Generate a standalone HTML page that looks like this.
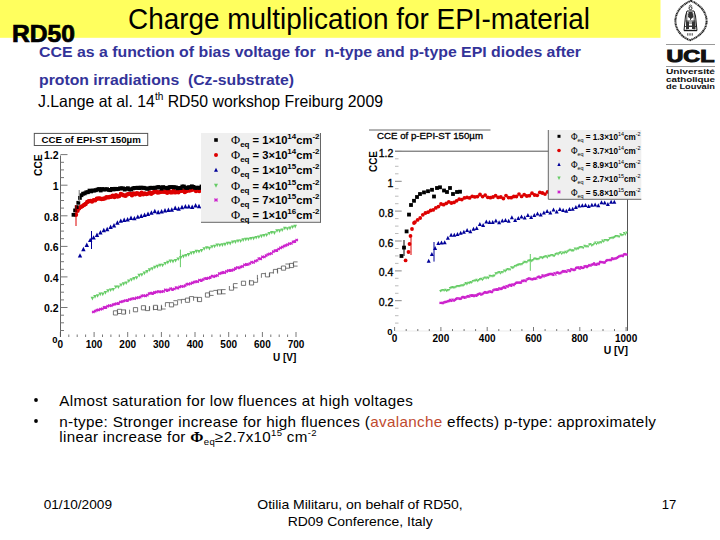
<!DOCTYPE html>
<html><head><meta charset="utf-8"><style>
html,body{margin:0;padding:0;background:#fff;width:720px;height:540px;overflow:hidden}
svg{display:block;font-family:"Liberation Sans", sans-serif}
</style></head><body>
<svg width="720" height="540" viewBox="0 0 720 540">
<rect x="0" y="0" width="660.5" height="37.8" fill="#ffff5e"/>
<text x="128" y="28.7" font-size="30" fill="#000" textLength="462" lengthAdjust="spacingAndGlyphs">Charge multiplication for EPI-material</text>
<text x="12" y="41.7" font-size="23" font-weight="bold" fill="#000" stroke="#000" stroke-width="0.7" textLength="63" lengthAdjust="spacingAndGlyphs">RD50</text>
<text x="39" y="56.6" font-size="15" font-weight="bold" fill="#333399" style="white-space:pre" textLength="542" lengthAdjust="spacingAndGlyphs">CCE as a function of bias voltage for  n-type and p-type EPI diodes after</text>
<text x="39" y="85" font-size="15" font-weight="bold" fill="#333399" style="white-space:pre" textLength="255" lengthAdjust="spacingAndGlyphs">proton irradiations  (Cz-substrate)</text>
<text x="38" y="106.7" font-size="16.5" fill="#000" textLength="345" lengthAdjust="spacingAndGlyphs">J.Lange at al. 14<tspan dy="-6.5" font-size="10.5">th</tspan><tspan dy="6.5"> RD50 workshop Freiburg 2009</tspan></text>
<g fill="none" stroke="#1a1a1a"><path d="M691 0.9 C701 5 706.6 13 706.6 21 C706.6 30 699 37 690 40.2 C681 37 675.4 29 675.4 21 C675.4 13 681 4.5 691 0.9 Z" stroke-width="2" stroke-dasharray="1.2 0.4 0.8 0.5 1.5 0.4" stroke="#222"/><circle cx="690.5" cy="8.2" r="1.5" stroke-width="0.9"/><path d="M688.8 6.2 L690.5 5 L692.2 6.2" stroke-width="0.7"/><path d="M687 11 L694 11 L695.5 16 L697 30.5 L684 30.5 L685.5 16 Z" stroke-width="1"/><path d="M686.8 13 L686.8 29.5 M694.2 13 L694.2 29.5 M685.5 21 L695.5 21 M684.5 26.5 L696.5 26.5 M690.5 12 L690.5 20" stroke-width="0.8"/><path d="M688 14 C689 16 692 16 693 14 M688 23 L693 23 L693 26 L688 26 Z" stroke-width="0.7"/></g>
<rect x="684" y="29.8" width="13" height="1.4" fill="#1a1a1a"/>
<path d="M688.5 12 L692.5 12 L693.5 17 L691 19 L688 17 Z M686 21.5 L689 21.5 L689 29 L686 29 Z M692 21.5 L695.5 21.5 L695.5 29 L692 29 Z" fill="#333"/>
<path d="M687.6 33.2v2.4M689.2 33.2v2.4M690.8 33.2v2.4M692.4 33.2v2.4" stroke="#555" stroke-width="0.9"/>
<rect x="666" y="44" width="49" height="1" fill="#999"/>
<rect x="666" y="66" width="49" height="1" fill="#999"/>
<text x="666.5" y="61.7" font-size="16.5" font-weight="bold" fill="#111" stroke="#111" stroke-width="1" textLength="48" lengthAdjust="spacingAndGlyphs">UCL</text>
<text x="666" y="74.4" font-size="7.2" font-weight="bold" fill="#111" textLength="49" lengthAdjust="spacingAndGlyphs">Université</text>
<text x="666" y="81.7" font-size="7.2" font-weight="bold" fill="#111" textLength="49" lengthAdjust="spacingAndGlyphs">catholique</text>
<text x="666" y="88.9" font-size="7.2" font-weight="bold" fill="#111" textLength="49" lengthAdjust="spacingAndGlyphs">de Louvain</text>
<rect x="34.3" y="133.4" width="113.4" height="12.1" fill="#fff" stroke="#555" stroke-width="1"/>
<text x="41.5" y="142.8" font-size="9" font-weight="bold" fill="#000" textLength="99.3" lengthAdjust="spacingAndGlyphs">CCE of EPI-ST 150µm</text>
<line x1="60.5" y1="155.5" x2="60.5" y2="337" stroke="#666" stroke-width="1"/>
<line x1="60.5" y1="330.5" x2="64.0" y2="330.5" stroke="#777" stroke-width="1"/>
<line x1="60.5" y1="322.8" x2="64.0" y2="322.8" stroke="#777" stroke-width="1"/>
<line x1="60.5" y1="315.2" x2="64.0" y2="315.2" stroke="#777" stroke-width="1"/>
<line x1="60.5" y1="307.5" x2="67.5" y2="307.5" stroke="#777" stroke-width="1"/>
<line x1="60.5" y1="299.9" x2="64.0" y2="299.9" stroke="#777" stroke-width="1"/>
<line x1="60.5" y1="292.2" x2="64.0" y2="292.2" stroke="#777" stroke-width="1"/>
<line x1="60.5" y1="284.6" x2="64.0" y2="284.6" stroke="#777" stroke-width="1"/>
<line x1="60.5" y1="276.9" x2="67.5" y2="276.9" stroke="#777" stroke-width="1"/>
<line x1="60.5" y1="269.3" x2="64.0" y2="269.3" stroke="#777" stroke-width="1"/>
<line x1="60.5" y1="261.7" x2="64.0" y2="261.7" stroke="#777" stroke-width="1"/>
<line x1="60.5" y1="254.0" x2="64.0" y2="254.0" stroke="#777" stroke-width="1"/>
<line x1="60.5" y1="246.4" x2="67.5" y2="246.4" stroke="#777" stroke-width="1"/>
<line x1="60.5" y1="238.7" x2="64.0" y2="238.7" stroke="#777" stroke-width="1"/>
<line x1="60.5" y1="231.1" x2="64.0" y2="231.1" stroke="#777" stroke-width="1"/>
<line x1="60.5" y1="223.4" x2="64.0" y2="223.4" stroke="#777" stroke-width="1"/>
<line x1="60.5" y1="215.8" x2="67.5" y2="215.8" stroke="#777" stroke-width="1"/>
<line x1="60.5" y1="208.1" x2="64.0" y2="208.1" stroke="#777" stroke-width="1"/>
<line x1="60.5" y1="200.5" x2="64.0" y2="200.5" stroke="#777" stroke-width="1"/>
<line x1="60.5" y1="192.8" x2="64.0" y2="192.8" stroke="#777" stroke-width="1"/>
<line x1="60.5" y1="185.2" x2="67.5" y2="185.2" stroke="#777" stroke-width="1"/>
<line x1="60.5" y1="177.6" x2="64.0" y2="177.6" stroke="#777" stroke-width="1"/>
<line x1="60.5" y1="169.9" x2="64.0" y2="169.9" stroke="#777" stroke-width="1"/>
<line x1="60.5" y1="162.3" x2="64.0" y2="162.3" stroke="#777" stroke-width="1"/>
<line x1="60.5" y1="154.6" x2="67.5" y2="154.6" stroke="#777" stroke-width="1"/>
<text x="58.5" y="159.4" font-size="10.5" font-weight="bold" text-anchor="end" fill="#000">1.2</text>
<text x="58.5" y="190.0" font-size="10.5" font-weight="bold" text-anchor="end" fill="#000">1</text>
<text x="58.5" y="220.6" font-size="10.5" font-weight="bold" text-anchor="end" fill="#000">0.8</text>
<text x="58.5" y="251.2" font-size="10.5" font-weight="bold" text-anchor="end" fill="#000">0.6</text>
<text x="58.5" y="281.7" font-size="10.5" font-weight="bold" text-anchor="end" fill="#000">0.4</text>
<text x="58.5" y="312.3" font-size="10.5" font-weight="bold" text-anchor="end" fill="#000">0.2</text>
<text x="57.5" y="342.5" font-size="9.5" font-weight="bold" text-anchor="end" fill="#000">0</text>
<line x1="60.4" y1="332.0" x2="60.4" y2="337" stroke="#555" stroke-width="0.8"/>
<line x1="68.8" y1="334.5" x2="68.8" y2="337" stroke="#555" stroke-width="0.8"/>
<line x1="77.2" y1="334.5" x2="77.2" y2="337" stroke="#555" stroke-width="0.8"/>
<line x1="85.6" y1="334.5" x2="85.6" y2="337" stroke="#555" stroke-width="0.8"/>
<line x1="94.1" y1="332.0" x2="94.1" y2="337" stroke="#555" stroke-width="0.8"/>
<line x1="102.5" y1="334.5" x2="102.5" y2="337" stroke="#555" stroke-width="0.8"/>
<line x1="110.9" y1="334.5" x2="110.9" y2="337" stroke="#555" stroke-width="0.8"/>
<line x1="119.3" y1="334.5" x2="119.3" y2="337" stroke="#555" stroke-width="0.8"/>
<line x1="127.7" y1="332.0" x2="127.7" y2="337" stroke="#555" stroke-width="0.8"/>
<line x1="136.1" y1="334.5" x2="136.1" y2="337" stroke="#555" stroke-width="0.8"/>
<line x1="144.6" y1="334.5" x2="144.6" y2="337" stroke="#555" stroke-width="0.8"/>
<line x1="153.0" y1="334.5" x2="153.0" y2="337" stroke="#555" stroke-width="0.8"/>
<line x1="161.4" y1="332.0" x2="161.4" y2="337" stroke="#555" stroke-width="0.8"/>
<line x1="169.8" y1="334.5" x2="169.8" y2="337" stroke="#555" stroke-width="0.8"/>
<line x1="178.2" y1="334.5" x2="178.2" y2="337" stroke="#555" stroke-width="0.8"/>
<line x1="186.6" y1="334.5" x2="186.6" y2="337" stroke="#555" stroke-width="0.8"/>
<line x1="195.0" y1="332.0" x2="195.0" y2="337" stroke="#555" stroke-width="0.8"/>
<line x1="203.5" y1="334.5" x2="203.5" y2="337" stroke="#555" stroke-width="0.8"/>
<line x1="211.9" y1="334.5" x2="211.9" y2="337" stroke="#555" stroke-width="0.8"/>
<line x1="220.3" y1="334.5" x2="220.3" y2="337" stroke="#555" stroke-width="0.8"/>
<line x1="228.7" y1="332.0" x2="228.7" y2="337" stroke="#555" stroke-width="0.8"/>
<line x1="237.1" y1="334.5" x2="237.1" y2="337" stroke="#555" stroke-width="0.8"/>
<line x1="245.5" y1="334.5" x2="245.5" y2="337" stroke="#555" stroke-width="0.8"/>
<line x1="253.9" y1="334.5" x2="253.9" y2="337" stroke="#555" stroke-width="0.8"/>
<line x1="262.4" y1="332.0" x2="262.4" y2="337" stroke="#555" stroke-width="0.8"/>
<line x1="270.8" y1="334.5" x2="270.8" y2="337" stroke="#555" stroke-width="0.8"/>
<line x1="279.2" y1="334.5" x2="279.2" y2="337" stroke="#555" stroke-width="0.8"/>
<line x1="287.6" y1="334.5" x2="287.6" y2="337" stroke="#555" stroke-width="0.8"/>
<line x1="296.0" y1="332.0" x2="296.0" y2="337" stroke="#555" stroke-width="0.8"/>
<text x="60.4" y="348.3" font-size="10" font-weight="bold" text-anchor="middle" fill="#000">0</text>
<text x="94.1" y="348.3" font-size="10" font-weight="bold" text-anchor="middle" fill="#000">100</text>
<text x="127.7" y="348.3" font-size="10" font-weight="bold" text-anchor="middle" fill="#000">200</text>
<text x="161.4" y="348.3" font-size="10" font-weight="bold" text-anchor="middle" fill="#000">300</text>
<text x="195.0" y="348.3" font-size="10" font-weight="bold" text-anchor="middle" fill="#000">400</text>
<text x="228.7" y="348.3" font-size="10" font-weight="bold" text-anchor="middle" fill="#000">500</text>
<text x="262.4" y="348.3" font-size="10" font-weight="bold" text-anchor="middle" fill="#000">600</text>
<text x="296.0" y="348.3" font-size="10" font-weight="bold" text-anchor="middle" fill="#000">700</text>
<text x="273" y="361" font-size="10.5" font-weight="bold" fill="#000" textLength="23.3" lengthAdjust="spacingAndGlyphs">U [V]</text>
<text transform="translate(42.2,176) rotate(-90)" x="0" y="0" font-size="10.5" font-weight="bold" fill="#000" textLength="21.6" lengthAdjust="spacingAndGlyphs">CCE</text>
<g>
<path d="M113.4 310.8h4.2M117.6 310.8v4.2M113.4 315.0h4.2M113.4 310.8v4.2" fill="none" stroke="#555" stroke-width="0.8"/>
<path d="M117.4 309.3h4.2M121.6 309.3v4.2M117.4 313.5h4.2M117.4 309.3v4.2" fill="none" stroke="#555" stroke-width="0.8"/>
<path d="M121.4 309.9h4.2M125.6 309.9v4.2M121.4 314.1h4.2" fill="none" stroke="#555" stroke-width="0.8"/>
<path d="M129.6 309.7v4.2M125.4 309.7v4.2" fill="none" stroke="#555" stroke-width="0.8"/>

<path d="M133.4 307.6h4.2M137.6 307.6v4.2M133.4 311.8h4.2M133.4 307.6v4.2" fill="none" stroke="#555" stroke-width="0.8"/>

<path d="M141.4 305.7h4.2M145.6 305.7v4.2M141.4 309.9h4.2M141.4 305.7v4.2" fill="none" stroke="#555" stroke-width="0.8"/>
<path d="M149.6 306.4v4.2M145.4 310.6h4.2M145.4 306.4v4.2" fill="none" stroke="#555" stroke-width="0.8"/>
<path d="M153.6 306.1v4.2M149.4 306.1v4.2" fill="none" stroke="#555" stroke-width="0.8"/>
<path d="M153.4 305.3h4.2M157.6 305.3v4.2M153.4 309.5h4.2M153.4 305.3v4.2" fill="none" stroke="#555" stroke-width="0.8"/>
<path d="M161.6 305.9v4.2M157.4 310.1h4.2M157.4 305.9v4.2" fill="none" stroke="#555" stroke-width="0.8"/>
<path d="M161.4 309.0h4.2M161.4 304.8v4.2" fill="none" stroke="#555" stroke-width="0.8"/>
<path d="M165.4 302.6h4.2M165.4 302.6v4.2" fill="none" stroke="#555" stroke-width="0.8"/>
<path d="M169.4 302.7h4.2M173.6 302.7v4.2M169.4 306.9h4.2M169.4 302.7v4.2" fill="none" stroke="#555" stroke-width="0.8"/>
<path d="M173.4 300.7h4.2M177.6 300.7v4.2M173.4 304.9h4.2" fill="none" stroke="#555" stroke-width="0.8"/>
<path d="M177.4 299.8h4.2" fill="none" stroke="#555" stroke-width="0.8"/>
<path d="M181.4 299.4h4.2M181.4 299.4v4.2" fill="none" stroke="#555" stroke-width="0.8"/>
<path d="M185.4 298.1h4.2M189.6 298.1v4.2M185.4 302.3h4.2M185.4 298.1v4.2" fill="none" stroke="#555" stroke-width="0.8"/>
<path d="M189.4 296.6h4.2M193.6 296.6v4.2M189.4 296.6v4.2" fill="none" stroke="#555" stroke-width="0.8"/>
<path d="M193.4 297.3h4.2M197.6 297.3v4.2" fill="none" stroke="#555" stroke-width="0.8"/>
<path d="M197.4 297.4h4.2M201.6 297.4v4.2M197.4 301.6h4.2M197.4 297.4v4.2" fill="none" stroke="#555" stroke-width="0.8"/>

<path d="M205.4 292.9h4.2M209.6 292.9v4.2M205.4 297.1h4.2M205.4 292.9v4.2" fill="none" stroke="#555" stroke-width="0.8"/>
<path d="M209.4 291.2h4.2M209.4 295.4h4.2M209.4 291.2v4.2" fill="none" stroke="#555" stroke-width="0.8"/>
<path d="M213.4 290.4h4.2M217.6 290.4v4.2" fill="none" stroke="#555" stroke-width="0.8"/>
<path d="M217.4 289.8h4.2M221.6 289.8v4.2M217.4 294.0h4.2M217.4 289.8v4.2" fill="none" stroke="#555" stroke-width="0.8"/>
<path d="M221.4 289.6h4.2M221.4 293.8h4.2M221.4 289.6v4.2" fill="none" stroke="#555" stroke-width="0.8"/>

<path d="M233.6 286.0v4.2M229.4 290.2h4.2M229.4 286.0v4.2" fill="none" stroke="#555" stroke-width="0.8"/>
<path d="M233.4 283.6h4.2M233.4 287.8h4.2M233.4 283.6v4.2" fill="none" stroke="#555" stroke-width="0.8"/>
<path d="" fill="none" stroke="#555" stroke-width="0.8"/>
<path d="M241.4 281.2h4.2M245.6 281.2v4.2M241.4 285.4h4.2M241.4 281.2v4.2" fill="none" stroke="#555" stroke-width="0.8"/>
<path d="M249.6 279.9v4.2" fill="none" stroke="#555" stroke-width="0.8"/>
<path d="M249.4 280.8h4.2M253.6 280.8v4.2M249.4 285.0h4.2M249.4 280.8v4.2" fill="none" stroke="#555" stroke-width="0.8"/>
<path d="M257.6 278.1v4.2M253.4 282.3h4.2" fill="none" stroke="#555" stroke-width="0.8"/>
<path d="M257.4 274.9v4.2" fill="none" stroke="#555" stroke-width="0.8"/>
<path d="M261.4 273.6h4.2M261.4 273.6v4.2" fill="none" stroke="#555" stroke-width="0.8"/>
<path d="M269.6 272.7v4.2M265.4 276.9h4.2M265.4 272.7v4.2" fill="none" stroke="#555" stroke-width="0.8"/>
<path d="M269.4 272.8h4.2M269.4 272.8v4.2" fill="none" stroke="#555" stroke-width="0.8"/>
<path d="M273.4 269.4h4.2M277.6 269.4v4.2M273.4 269.4v4.2" fill="none" stroke="#555" stroke-width="0.8"/>
<path d="M277.4 268.4h4.2M277.4 268.4v4.2" fill="none" stroke="#555" stroke-width="0.8"/>
<path d="M281.4 266.0h4.2M285.6 266.0v4.2M281.4 270.2h4.2M281.4 266.0v4.2" fill="none" stroke="#555" stroke-width="0.8"/>
<path d="M285.4 264.0h4.2M289.6 264.0v4.2M285.4 268.2h4.2" fill="none" stroke="#555" stroke-width="0.8"/>
<path d="M289.4 263.4h4.2M293.6 263.4v4.2M289.4 267.6h4.2M289.4 263.4v4.2" fill="none" stroke="#555" stroke-width="0.8"/>
<path d="M293.4 261.9h4.2M293.4 266.1h4.2M293.4 261.9v4.2" fill="none" stroke="#555" stroke-width="0.8"/>
<path d="M92.1 310.8L94.5 313.2M94.5 310.8L92.1 313.2M92.1 312.0L94.5 312.0" stroke="#cc22cc" stroke-width="1.1"/>
<path d="M93.9 309.9L96.3 312.3M96.3 309.9L93.9 312.3M93.9 311.1L96.3 311.1" stroke="#cc22cc" stroke-width="1.1"/>
<path d="M95.7 309.0L98.1 311.4M98.1 309.0L95.7 311.4M95.7 310.2L98.1 310.2" stroke="#cc22cc" stroke-width="1.1"/>
<path d="M97.5 308.6L99.9 311.0M99.9 308.6L97.5 311.0M97.5 309.8L99.9 309.8" stroke="#cc22cc" stroke-width="1.1"/>
<path d="M99.3 308.0L101.7 310.4M101.7 308.0L99.3 310.4M99.3 309.2L101.7 309.2" stroke="#cc22cc" stroke-width="1.1"/>
<path d="M101.1 307.7L103.5 310.1M103.5 307.7L101.1 310.1M101.1 308.9L103.5 308.9" stroke="#cc22cc" stroke-width="1.1"/>
<path d="M102.9 306.1L105.3 308.5M105.3 306.1L102.9 308.5M102.9 307.3L105.3 307.3" stroke="#cc22cc" stroke-width="1.1"/>
<path d="M104.7 306.1L107.1 308.5M107.1 306.1L104.7 308.5M104.7 307.3L107.1 307.3" stroke="#cc22cc" stroke-width="1.1"/>
<path d="M106.5 305.0L108.9 307.4M108.9 305.0L106.5 307.4M106.5 306.2L108.9 306.2" stroke="#cc22cc" stroke-width="1.1"/>
<path d="M108.3 304.4L110.7 306.8M110.7 304.4L108.3 306.8M108.3 305.6L110.7 305.6" stroke="#cc22cc" stroke-width="1.1"/>
<path d="M110.1 304.5L112.5 306.9M112.5 304.5L110.1 306.9M110.1 305.7L112.5 305.7" stroke="#cc22cc" stroke-width="1.1"/>
<path d="M111.9 303.5L114.3 305.9M114.3 303.5L111.9 305.9M111.9 304.7L114.3 304.7" stroke="#cc22cc" stroke-width="1.1"/>
<path d="M113.7 302.9L116.1 305.3M116.1 302.9L113.7 305.3M113.7 304.1L116.1 304.1" stroke="#cc22cc" stroke-width="1.1"/>
<path d="M115.5 302.5L117.9 304.9M117.9 302.5L115.5 304.9M115.5 303.7L117.9 303.7" stroke="#cc22cc" stroke-width="1.1"/>
<path d="M117.3 302.1L119.7 304.5M119.7 302.1L117.3 304.5M117.3 303.3L119.7 303.3" stroke="#cc22cc" stroke-width="1.1"/>
<path d="M119.1 300.8L121.5 303.2M121.5 300.8L119.1 303.2M119.1 302.0L121.5 302.0" stroke="#cc22cc" stroke-width="1.1"/>
<path d="M120.9 300.4L123.3 302.8M123.3 300.4L120.9 302.8M120.9 301.6L123.3 301.6" stroke="#cc22cc" stroke-width="1.1"/>
<path d="M122.7 299.8L125.1 302.2M125.1 299.8L122.7 302.2M122.7 301.0L125.1 301.0" stroke="#cc22cc" stroke-width="1.1"/>
<path d="M124.5 299.3L126.9 301.7M126.9 299.3L124.5 301.7M124.5 300.5L126.9 300.5" stroke="#cc22cc" stroke-width="1.1"/>
<path d="M126.3 299.1L128.7 301.5M128.7 299.1L126.3 301.5M126.3 300.3L128.7 300.3" stroke="#cc22cc" stroke-width="1.1"/>
<path d="M128.1 298.3L130.5 300.7M130.5 298.3L128.1 300.7M128.1 299.5L130.5 299.5" stroke="#cc22cc" stroke-width="1.1"/>
<path d="M129.9 297.9L132.3 300.3M132.3 297.9L129.9 300.3M129.9 299.1L132.3 299.1" stroke="#cc22cc" stroke-width="1.1"/>
<path d="M131.7 297.3L134.1 299.7M134.1 297.3L131.7 299.7M131.7 298.5L134.1 298.5" stroke="#cc22cc" stroke-width="1.1"/>
<path d="M133.5 297.5L135.9 299.9M135.9 297.5L133.5 299.9M133.5 298.7L135.9 298.7" stroke="#cc22cc" stroke-width="1.1"/>
<path d="M135.3 296.7L137.7 299.1M137.7 296.7L135.3 299.1M135.3 297.9L137.7 297.9" stroke="#cc22cc" stroke-width="1.1"/>
<path d="M137.1 296.4L139.5 298.8M139.5 296.4L137.1 298.8M137.1 297.6L139.5 297.6" stroke="#cc22cc" stroke-width="1.1"/>
<path d="M138.9 296.0L141.3 298.4M141.3 296.0L138.9 298.4M138.9 297.2L141.3 297.2" stroke="#cc22cc" stroke-width="1.1"/>
<path d="M140.7 294.6L143.1 297.0M143.1 294.6L140.7 297.0M140.7 295.8L143.1 295.8" stroke="#cc22cc" stroke-width="1.1"/>
<path d="M142.5 294.5L144.9 296.9M144.9 294.5L142.5 296.9M142.5 295.7L144.9 295.7" stroke="#cc22cc" stroke-width="1.1"/>
<path d="M144.3 294.6L146.7 297.0M146.7 294.6L144.3 297.0M144.3 295.8L146.7 295.8" stroke="#cc22cc" stroke-width="1.1"/>
<path d="M146.1 294.0L148.5 296.4M148.5 294.0L146.1 296.4M146.1 295.2L148.5 295.2" stroke="#cc22cc" stroke-width="1.1"/>
<path d="M147.9 292.5L150.3 294.9M150.3 292.5L147.9 294.9M147.9 293.7L150.3 293.7" stroke="#cc22cc" stroke-width="1.1"/>
<path d="M149.7 292.0L152.1 294.4M152.1 292.0L149.7 294.4M149.7 293.2L152.1 293.2" stroke="#cc22cc" stroke-width="1.1"/>
<path d="M151.5 292.1L153.9 294.5M153.9 292.1L151.5 294.5M151.5 293.3L153.9 293.3" stroke="#cc22cc" stroke-width="1.1"/>
<path d="M153.3 291.1L155.7 293.5M155.7 291.1L153.3 293.5M153.3 292.3L155.7 292.3" stroke="#cc22cc" stroke-width="1.1"/>
<path d="M155.1 290.9L157.5 293.3M157.5 290.9L155.1 293.3M155.1 292.1L157.5 292.1" stroke="#cc22cc" stroke-width="1.1"/>
<path d="M156.9 290.3L159.3 292.7M159.3 290.3L156.9 292.7M156.9 291.5L159.3 291.5" stroke="#cc22cc" stroke-width="1.1"/>
<path d="M158.7 290.7L161.1 293.1M161.1 290.7L158.7 293.1M158.7 291.9L161.1 291.9" stroke="#cc22cc" stroke-width="1.1"/>
<path d="M160.5 290.5L162.9 292.9M162.9 290.5L160.5 292.9M160.5 291.7L162.9 291.7" stroke="#cc22cc" stroke-width="1.1"/>
<path d="M162.3 290.2L164.7 292.6M164.7 290.2L162.3 292.6M162.3 291.4L164.7 291.4" stroke="#cc22cc" stroke-width="1.1"/>
<path d="M164.1 288.7L166.5 291.1M166.5 288.7L164.1 291.1M164.1 289.9L166.5 289.9" stroke="#cc22cc" stroke-width="1.1"/>
<path d="M165.9 289.1L168.3 291.5M168.3 289.1L165.9 291.5M165.9 290.3L168.3 290.3" stroke="#cc22cc" stroke-width="1.1"/>
<path d="M167.7 288.6L170.1 291.0M170.1 288.6L167.7 291.0M167.7 289.8L170.1 289.8" stroke="#cc22cc" stroke-width="1.1"/>
<path d="M169.5 287.5L171.9 289.9M171.9 287.5L169.5 289.9M169.5 288.7L171.9 288.7" stroke="#cc22cc" stroke-width="1.1"/>
<path d="M171.3 288.1L173.7 290.5M173.7 288.1L171.3 290.5M171.3 289.3L173.7 289.3" stroke="#cc22cc" stroke-width="1.1"/>
<path d="M173.1 287.8L175.5 290.2M175.5 287.8L173.1 290.2M173.1 289.0L175.5 289.0" stroke="#cc22cc" stroke-width="1.1"/>
<path d="M174.9 286.4L177.3 288.8M177.3 286.4L174.9 288.8M174.9 287.6L177.3 287.6" stroke="#cc22cc" stroke-width="1.1"/>
<path d="M176.7 286.9L179.1 289.3M179.1 286.9L176.7 289.3M176.7 288.1L179.1 288.1" stroke="#cc22cc" stroke-width="1.1"/>
<path d="M178.5 285.6L180.9 288.0M180.9 285.6L178.5 288.0M178.5 286.8L180.9 286.8" stroke="#cc22cc" stroke-width="1.1"/>
<path d="M180.3 285.2L182.7 287.6M182.7 285.2L180.3 287.6M180.3 286.4L182.7 286.4" stroke="#cc22cc" stroke-width="1.1"/>
<path d="M182.1 285.3L184.5 287.7M184.5 285.3L182.1 287.7M182.1 286.5L184.5 286.5" stroke="#cc22cc" stroke-width="1.1"/>
<path d="M183.9 284.5L186.3 286.9M186.3 284.5L183.9 286.9M183.9 285.7L186.3 285.7" stroke="#cc22cc" stroke-width="1.1"/>
<path d="M185.7 283.0L188.1 285.4M188.1 283.0L185.7 285.4M185.7 284.2L188.1 284.2" stroke="#cc22cc" stroke-width="1.1"/>
<path d="M187.5 282.9L189.9 285.3M189.9 282.9L187.5 285.3M187.5 284.1L189.9 284.1" stroke="#cc22cc" stroke-width="1.1"/>
<path d="M189.3 282.4L191.7 284.8M191.7 282.4L189.3 284.8M189.3 283.6L191.7 283.6" stroke="#cc22cc" stroke-width="1.1"/>
<path d="M191.1 281.6L193.5 284.0M193.5 281.6L191.1 284.0M191.1 282.8L193.5 282.8" stroke="#cc22cc" stroke-width="1.1"/>
<path d="M192.9 280.9L195.3 283.3M195.3 280.9L192.9 283.3M192.9 282.1L195.3 282.1" stroke="#cc22cc" stroke-width="1.1"/>
<path d="M194.7 280.5L197.1 282.9M197.1 280.5L194.7 282.9M194.7 281.7L197.1 281.7" stroke="#cc22cc" stroke-width="1.1"/>
<path d="M196.5 280.5L198.9 282.9M198.9 280.5L196.5 282.9M196.5 281.7L198.9 281.7" stroke="#cc22cc" stroke-width="1.1"/>
<path d="M198.3 278.9L200.7 281.3M200.7 278.9L198.3 281.3M198.3 280.1L200.7 280.1" stroke="#cc22cc" stroke-width="1.1"/>
<path d="M200.1 279.1L202.5 281.5M202.5 279.1L200.1 281.5M200.1 280.3L202.5 280.3" stroke="#cc22cc" stroke-width="1.1"/>
<path d="M201.9 278.4L204.3 280.8M204.3 278.4L201.9 280.8M201.9 279.6L204.3 279.6" stroke="#cc22cc" stroke-width="1.1"/>
<path d="M203.7 277.3L206.1 279.7M206.1 277.3L203.7 279.7M203.7 278.5L206.1 278.5" stroke="#cc22cc" stroke-width="1.1"/>
<path d="M205.5 277.1L207.9 279.5M207.9 277.1L205.5 279.5M205.5 278.3L207.9 278.3" stroke="#cc22cc" stroke-width="1.1"/>
<path d="M207.3 276.9L209.7 279.3M209.7 276.9L207.3 279.3M207.3 278.1L209.7 278.1" stroke="#cc22cc" stroke-width="1.1"/>
<path d="M209.1 276.1L211.5 278.5M211.5 276.1L209.1 278.5M209.1 277.3L211.5 277.3" stroke="#cc22cc" stroke-width="1.1"/>
<path d="M210.9 274.8L213.3 277.2M213.3 274.8L210.9 277.2M210.9 276.0L213.3 276.0" stroke="#cc22cc" stroke-width="1.1"/>
<path d="M212.7 275.5L215.1 277.9M215.1 275.5L212.7 277.9M212.7 276.7L215.1 276.7" stroke="#cc22cc" stroke-width="1.1"/>
<path d="M214.5 274.6L216.9 277.0M216.9 274.6L214.5 277.0M214.5 275.8L216.9 275.8" stroke="#cc22cc" stroke-width="1.1"/>
<path d="M216.3 274.3L218.7 276.7M218.7 274.3L216.3 276.7M216.3 275.5L218.7 275.5" stroke="#cc22cc" stroke-width="1.1"/>
<path d="M218.1 272.4L220.5 274.8M220.5 272.4L218.1 274.8M218.1 273.6L220.5 273.6" stroke="#cc22cc" stroke-width="1.1"/>
<path d="M219.9 272.0L222.3 274.4M222.3 272.0L219.9 274.4M219.9 273.2L222.3 273.2" stroke="#cc22cc" stroke-width="1.1"/>
<path d="M221.7 271.1L224.1 273.5M224.1 271.1L221.7 273.5M221.7 272.3L224.1 272.3" stroke="#cc22cc" stroke-width="1.1"/>
<path d="M223.5 271.5L225.9 273.9M225.9 271.5L223.5 273.9M223.5 272.7L225.9 272.7" stroke="#cc22cc" stroke-width="1.1"/>
<path d="M225.3 270.2L227.7 272.6M227.7 270.2L225.3 272.6M225.3 271.4L227.7 271.4" stroke="#cc22cc" stroke-width="1.1"/>
<path d="M227.1 269.4L229.5 271.8M229.5 269.4L227.1 271.8M227.1 270.6L229.5 270.6" stroke="#cc22cc" stroke-width="1.1"/>
<path d="M228.9 269.1L231.3 271.5M231.3 269.1L228.9 271.5M228.9 270.3L231.3 270.3" stroke="#cc22cc" stroke-width="1.1"/>
<path d="M230.7 269.2L233.1 271.6M233.1 269.2L230.7 271.6M230.7 270.4L233.1 270.4" stroke="#cc22cc" stroke-width="1.1"/>
<path d="M232.5 268.5L234.9 270.9M234.9 268.5L232.5 270.9M232.5 269.7L234.9 269.7" stroke="#cc22cc" stroke-width="1.1"/>
<path d="M234.3 267.1L236.7 269.5M236.7 267.1L234.3 269.5M234.3 268.3L236.7 268.3" stroke="#cc22cc" stroke-width="1.1"/>
<path d="M236.1 266.3L238.5 268.7M238.5 266.3L236.1 268.7M236.1 267.5L238.5 267.5" stroke="#cc22cc" stroke-width="1.1"/>
<path d="M237.9 266.7L240.3 269.1M240.3 266.7L237.9 269.1M237.9 267.9L240.3 267.9" stroke="#cc22cc" stroke-width="1.1"/>
<path d="M239.7 265.6L242.1 268.0M242.1 265.6L239.7 268.0M239.7 266.8L242.1 266.8" stroke="#cc22cc" stroke-width="1.1"/>
<path d="M241.5 265.2L243.9 267.6M243.9 265.2L241.5 267.6M241.5 266.4L243.9 266.4" stroke="#cc22cc" stroke-width="1.1"/>
<path d="M243.3 263.7L245.7 266.1M245.7 263.7L243.3 266.1M243.3 264.9L245.7 264.9" stroke="#cc22cc" stroke-width="1.1"/>
<path d="M245.1 263.1L247.5 265.5M247.5 263.1L245.1 265.5M245.1 264.3L247.5 264.3" stroke="#cc22cc" stroke-width="1.1"/>
<path d="M246.9 263.3L249.3 265.7M249.3 263.3L246.9 265.7M246.9 264.5L249.3 264.5" stroke="#cc22cc" stroke-width="1.1"/>
<path d="M248.7 262.3L251.1 264.7M251.1 262.3L248.7 264.7M248.7 263.5L251.1 263.5" stroke="#cc22cc" stroke-width="1.1"/>
<path d="M250.5 261.0L252.9 263.4M252.9 261.0L250.5 263.4M250.5 262.2L252.9 262.2" stroke="#cc22cc" stroke-width="1.1"/>
<path d="M252.3 261.3L254.7 263.7M254.7 261.3L252.3 263.7M252.3 262.5L254.7 262.5" stroke="#cc22cc" stroke-width="1.1"/>
<path d="M254.1 260.0L256.5 262.4M256.5 260.0L254.1 262.4M254.1 261.2L256.5 261.2" stroke="#cc22cc" stroke-width="1.1"/>
<path d="M255.9 259.3L258.3 261.7M258.3 259.3L255.9 261.7M255.9 260.5L258.3 260.5" stroke="#cc22cc" stroke-width="1.1"/>
<path d="M257.7 257.4L260.1 259.8M260.1 257.4L257.7 259.8M257.7 258.6L260.1 258.6" stroke="#cc22cc" stroke-width="1.1"/>
<path d="M259.5 257.6L261.9 260.0M261.9 257.6L259.5 260.0M259.5 258.8L261.9 258.8" stroke="#cc22cc" stroke-width="1.1"/>
<path d="M261.3 255.6L263.7 258.0M263.7 255.6L261.3 258.0M261.3 256.8L263.7 256.8" stroke="#cc22cc" stroke-width="1.1"/>
<path d="M263.1 255.8L265.5 258.2M265.5 255.8L263.1 258.2M263.1 257.0L265.5 257.0" stroke="#cc22cc" stroke-width="1.1"/>
<path d="M264.9 254.4L267.3 256.8M267.3 254.4L264.9 256.8M264.9 255.6L267.3 255.6" stroke="#cc22cc" stroke-width="1.1"/>
<path d="M266.7 253.3L269.1 255.7M269.1 253.3L266.7 255.7M266.7 254.5L269.1 254.5" stroke="#cc22cc" stroke-width="1.1"/>
<path d="M268.5 252.7L270.9 255.1M270.9 252.7L268.5 255.1M268.5 253.9L270.9 253.9" stroke="#cc22cc" stroke-width="1.1"/>
<path d="M270.3 252.3L272.7 254.7M272.7 252.3L270.3 254.7M270.3 253.5L272.7 253.5" stroke="#cc22cc" stroke-width="1.1"/>
<path d="M272.1 250.5L274.5 252.9M274.5 250.5L272.1 252.9M272.1 251.7L274.5 251.7" stroke="#cc22cc" stroke-width="1.1"/>
<path d="M273.9 249.4L276.3 251.8M276.3 249.4L273.9 251.8M273.9 250.6L276.3 250.6" stroke="#cc22cc" stroke-width="1.1"/>
<path d="M275.7 249.1L278.1 251.5M278.1 249.1L275.7 251.5M275.7 250.3L278.1 250.3" stroke="#cc22cc" stroke-width="1.1"/>
<path d="M277.5 247.8L279.9 250.2M279.9 247.8L277.5 250.2M277.5 249.0L279.9 249.0" stroke="#cc22cc" stroke-width="1.1"/>
<path d="M279.3 246.7L281.7 249.1M281.7 246.7L279.3 249.1M279.3 247.9L281.7 247.9" stroke="#cc22cc" stroke-width="1.1"/>
<path d="M281.1 245.9L283.5 248.3M283.5 245.9L281.1 248.3M281.1 247.1L283.5 247.1" stroke="#cc22cc" stroke-width="1.1"/>
<path d="M282.9 244.9L285.3 247.3M285.3 244.9L282.9 247.3M282.9 246.1L285.3 246.1" stroke="#cc22cc" stroke-width="1.1"/>
<path d="M284.7 244.2L287.1 246.6M287.1 244.2L284.7 246.6M284.7 245.4L287.1 245.4" stroke="#cc22cc" stroke-width="1.1"/>
<path d="M286.5 243.4L288.9 245.8M288.9 243.4L286.5 245.8M286.5 244.6L288.9 244.6" stroke="#cc22cc" stroke-width="1.1"/>
<path d="M288.3 242.5L290.7 244.9M290.7 242.5L288.3 244.9M288.3 243.7L290.7 243.7" stroke="#cc22cc" stroke-width="1.1"/>
<path d="M290.1 242.3L292.5 244.7M292.5 242.3L290.1 244.7M290.1 243.5L292.5 243.5" stroke="#cc22cc" stroke-width="1.1"/>
<path d="M291.9 240.7L294.3 243.1M294.3 240.7L291.9 243.1M291.9 241.9L294.3 241.9" stroke="#cc22cc" stroke-width="1.1"/>
<path d="M293.7 240.1L296.1 242.5M296.1 240.1L293.7 242.5M293.7 241.3L296.1 241.3" stroke="#cc22cc" stroke-width="1.1"/>
<path d="M295.5 238.8L297.9 241.2M297.9 238.8L295.5 241.2M295.5 240.0L297.9 240.0" stroke="#cc22cc" stroke-width="1.1"/>
<path d="M92.4 300.4L94.2 296.8L90.6 296.8Z" fill="#66cc66"/>
<path d="M95.0 298.7L96.8 295.1L93.2 295.1Z" fill="#66cc66"/>
<path d="M97.6 297.8L99.4 294.2L95.8 294.2Z" fill="#66cc66"/>
<path d="M100.2 296.2L102.0 292.6L98.4 292.6Z" fill="#66cc66"/>
<path d="M102.8 296.2L104.6 292.6L101.0 292.6Z" fill="#66cc66"/>
<path d="M105.4 294.7L107.2 291.1L103.6 291.1Z" fill="#66cc66"/>
<path d="M108.0 292.9L109.8 289.3L106.2 289.3Z" fill="#66cc66"/>
<path d="M110.6 292.1L112.4 288.5L108.8 288.5Z" fill="#66cc66"/>
<path d="M113.2 291.6L115.0 288.0L111.4 288.0Z" fill="#66cc66"/>
<path d="M115.8 289.1L117.6 285.5L114.0 285.5Z" fill="#66cc66"/>
<path d="M118.4 289.0L120.2 285.4L116.6 285.4Z" fill="#66cc66"/>
<path d="M121.0 287.1L122.8 283.5L119.2 283.5Z" fill="#66cc66"/>
<path d="M123.6 285.9L125.4 282.3L121.8 282.3Z" fill="#66cc66"/>
<path d="M126.2 285.1L128.0 281.5L124.4 281.5Z" fill="#66cc66"/>
<path d="M128.8 283.0L130.6 279.4L127.0 279.4Z" fill="#66cc66"/>
<path d="M131.4 281.8L133.2 278.2L129.6 278.2Z" fill="#66cc66"/>
<path d="M134.0 280.7L135.8 277.1L132.2 277.1Z" fill="#66cc66"/>
<path d="M136.6 279.8L138.4 276.2L134.8 276.2Z" fill="#66cc66"/>
<path d="M139.2 277.4L141.0 273.8L137.4 273.8Z" fill="#66cc66"/>
<path d="M141.8 276.8L143.6 273.2L140.0 273.2Z" fill="#66cc66"/>
<path d="M144.4 275.2L146.2 271.6L142.6 271.6Z" fill="#66cc66"/>
<path d="M147.0 273.7L148.8 270.1L145.2 270.1Z" fill="#66cc66"/>
<path d="M149.6 271.9L151.4 268.3L147.8 268.3Z" fill="#66cc66"/>
<path d="M152.2 270.8L154.0 267.2L150.4 267.2Z" fill="#66cc66"/>
<path d="M154.8 269.3L156.6 265.7L153.0 265.7Z" fill="#66cc66"/>
<path d="M157.4 268.4L159.2 264.8L155.6 264.8Z" fill="#66cc66"/>
<path d="M160.0 267.3L161.8 263.7L158.2 263.7Z" fill="#66cc66"/>
<path d="M162.6 267.3L164.4 263.7L160.8 263.7Z" fill="#66cc66"/>
<path d="M165.2 265.5L167.0 261.9L163.4 261.9Z" fill="#66cc66"/>
<path d="M167.8 264.4L169.6 260.8L166.0 260.8Z" fill="#66cc66"/>
<path d="M170.4 263.2L172.2 259.6L168.6 259.6Z" fill="#66cc66"/>
<path d="M173.0 263.4L174.8 259.8L171.2 259.8Z" fill="#66cc66"/>
<path d="M175.6 262.5L177.4 258.9L173.8 258.9Z" fill="#66cc66"/>
<path d="M178.2 261.1L180.0 257.5L176.4 257.5Z" fill="#66cc66"/>
<path d="M180.8 259.5L182.6 255.9L179.0 255.9Z" fill="#66cc66"/>
<path d="M183.4 258.4L185.2 254.8L181.6 254.8Z" fill="#66cc66"/>
<path d="M186.0 257.5L187.8 253.9L184.2 253.9Z" fill="#66cc66"/>
<path d="M188.6 256.7L190.4 253.1L186.8 253.1Z" fill="#66cc66"/>
<path d="M191.2 255.2L193.0 251.6L189.4 251.6Z" fill="#66cc66"/>
<path d="M193.8 254.7L195.6 251.1L192.0 251.1Z" fill="#66cc66"/>
<path d="M196.4 253.4L198.2 249.8L194.6 249.8Z" fill="#66cc66"/>
<path d="M199.0 253.5L200.8 249.9L197.2 249.9Z" fill="#66cc66"/>
<path d="M201.6 252.5L203.4 248.9L199.8 248.9Z" fill="#66cc66"/>
<path d="M204.2 250.8L206.0 247.2L202.4 247.2Z" fill="#66cc66"/>
<path d="M206.8 249.8L208.6 246.2L205.0 246.2Z" fill="#66cc66"/>
<path d="M209.4 250.4L211.2 246.8L207.6 246.8Z" fill="#66cc66"/>
<path d="M212.0 248.8L213.8 245.2L210.2 245.2Z" fill="#66cc66"/>
<path d="M214.6 248.3L216.4 244.7L212.8 244.7Z" fill="#66cc66"/>
<path d="M217.2 247.2L219.0 243.6L215.4 243.6Z" fill="#66cc66"/>
<path d="M219.8 247.3L221.6 243.7L218.0 243.7Z" fill="#66cc66"/>
<path d="M222.4 246.9L224.2 243.3L220.6 243.3Z" fill="#66cc66"/>
<path d="M225.0 246.4L226.8 242.8L223.2 242.8Z" fill="#66cc66"/>
<path d="M227.6 245.4L229.4 241.8L225.8 241.8Z" fill="#66cc66"/>
<path d="M230.2 245.4L232.0 241.8L228.4 241.8Z" fill="#66cc66"/>
<path d="M232.8 244.0L234.6 240.4L231.0 240.4Z" fill="#66cc66"/>
<path d="M235.4 243.9L237.2 240.3L233.6 240.3Z" fill="#66cc66"/>
<path d="M238.0 243.1L239.8 239.5L236.2 239.5Z" fill="#66cc66"/>
<path d="M240.6 243.1L242.4 239.5L238.8 239.5Z" fill="#66cc66"/>
<path d="M243.2 241.9L245.0 238.3L241.4 238.3Z" fill="#66cc66"/>
<path d="M245.8 241.4L247.6 237.8L244.0 237.8Z" fill="#66cc66"/>
<path d="M248.4 241.3L250.2 237.7L246.6 237.7Z" fill="#66cc66"/>
<path d="M251.0 240.6L252.8 237.0L249.2 237.0Z" fill="#66cc66"/>
<path d="M253.6 240.4L255.4 236.8L251.8 236.8Z" fill="#66cc66"/>
<path d="M256.2 239.5L258.0 235.9L254.4 235.9Z" fill="#66cc66"/>
<path d="M258.8 239.1L260.6 235.5L257.0 235.5Z" fill="#66cc66"/>
<path d="M261.4 238.2L263.2 234.6L259.6 234.6Z" fill="#66cc66"/>
<path d="M264.0 237.5L265.8 233.9L262.2 233.9Z" fill="#66cc66"/>
<path d="M266.6 237.0L268.4 233.4L264.8 233.4Z" fill="#66cc66"/>
<path d="M269.2 235.5L271.0 231.9L267.4 231.9Z" fill="#66cc66"/>
<path d="M271.8 234.6L273.6 231.0L270.0 231.0Z" fill="#66cc66"/>
<path d="M274.4 234.9L276.2 231.3L272.6 231.3Z" fill="#66cc66"/>
<path d="M277.0 232.8L278.8 229.2L275.2 229.2Z" fill="#66cc66"/>
<path d="M279.6 232.9L281.4 229.3L277.8 229.3Z" fill="#66cc66"/>
<path d="M282.2 232.1L284.0 228.5L280.4 228.5Z" fill="#66cc66"/>
<path d="M284.8 230.3L286.6 226.7L283.0 226.7Z" fill="#66cc66"/>
<path d="M287.4 230.8L289.2 227.2L285.6 227.2Z" fill="#66cc66"/>
<path d="M290.0 230.2L291.8 226.6L288.2 226.6Z" fill="#66cc66"/>
<path d="M292.6 229.0L294.4 225.4L290.8 225.4Z" fill="#66cc66"/>
<path d="M295.2 228.4L297.0 224.8L293.4 224.8Z" fill="#66cc66"/>
<path d="M80.0 253.2L82.2 257.6L77.8 257.6Z" fill="#000099"/>
<path d="M83.4 246.8L85.6 251.2L81.2 251.2Z" fill="#000099"/>
<path d="M86.8 242.6L89.0 247.0L84.6 247.0Z" fill="#000099"/>
<path d="M90.2 237.7L92.4 242.1L88.0 242.1Z" fill="#000099"/>
<path d="M93.6 235.2L95.8 239.6L91.4 239.6Z" fill="#000099"/>
<path d="M97.0 232.5L99.2 236.9L94.8 236.9Z" fill="#000099"/>
<path d="M100.4 230.0L102.6 234.4L98.2 234.4Z" fill="#000099"/>
<path d="M103.8 227.8L106.0 232.2L101.6 232.2Z" fill="#000099"/>
<path d="M107.2 226.8L109.4 231.2L105.0 231.2Z" fill="#000099"/>
<path d="M110.6 224.6L112.8 229.0L108.4 229.0Z" fill="#000099"/>
<path d="M114.0 223.0L116.2 227.4L111.8 227.4Z" fill="#000099"/>
<path d="M117.4 220.3L119.6 224.7L115.2 224.7Z" fill="#000099"/>
<path d="M120.8 218.4L123.0 222.8L118.6 222.8Z" fill="#000099"/>
<path d="M124.2 217.6L126.4 222.0L122.0 222.0Z" fill="#000099"/>
<path d="M127.6 217.0L129.8 221.4L125.4 221.4Z" fill="#000099"/>
<path d="M131.0 215.5L133.2 219.9L128.8 219.9Z" fill="#000099"/>
<path d="M134.4 215.9L136.6 220.3L132.2 220.3Z" fill="#000099"/>
<path d="M137.8 214.4L140.0 218.8L135.6 218.8Z" fill="#000099"/>
<path d="M141.2 213.5L143.4 217.9L139.0 217.9Z" fill="#000099"/>
<path d="M144.6 212.5L146.8 216.9L142.4 216.9Z" fill="#000099"/>
<path d="M148.0 211.5L150.2 215.9L145.8 215.9Z" fill="#000099"/>
<path d="M151.4 210.3L153.6 214.7L149.2 214.7Z" fill="#000099"/>
<path d="M154.8 208.8L157.0 213.2L152.6 213.2Z" fill="#000099"/>
<path d="M158.2 209.8L160.4 214.2L156.0 214.2Z" fill="#000099"/>
<path d="M161.6 209.1L163.8 213.5L159.4 213.5Z" fill="#000099"/>
<path d="M165.0 208.1L167.2 212.5L162.8 212.5Z" fill="#000099"/>
<path d="M168.4 207.6L170.6 212.0L166.2 212.0Z" fill="#000099"/>
<path d="M171.8 207.3L174.0 211.7L169.6 211.7Z" fill="#000099"/>
<path d="M175.2 205.5L177.4 209.9L173.0 209.9Z" fill="#000099"/>
<path d="M178.6 206.3L180.8 210.7L176.4 210.7Z" fill="#000099"/>
<path d="M182.0 204.8L184.2 209.2L179.8 209.2Z" fill="#000099"/>
<path d="M185.4 204.1L187.6 208.5L183.2 208.5Z" fill="#000099"/>
<path d="M188.8 204.1L191.0 208.5L186.6 208.5Z" fill="#000099"/>
<path d="M192.2 204.6L194.4 209.0L190.0 209.0Z" fill="#000099"/>
<path d="M195.6 203.1L197.8 207.5L193.4 207.5Z" fill="#000099"/>
<path d="M199.0 203.8L201.2 208.2L196.8 208.2Z" fill="#000099"/>
<path d="M202.4 203.8L204.6 208.2L200.2 208.2Z" fill="#000099"/>
<circle cx="76.0" cy="214.8" r="2.2" fill="#dd0000"/>
<circle cx="77.6" cy="210.7" r="2.2" fill="#dd0000"/>
<circle cx="79.2" cy="208.2" r="2.2" fill="#dd0000"/>
<circle cx="80.8" cy="206.9" r="2.2" fill="#dd0000"/>
<circle cx="82.4" cy="206.1" r="2.2" fill="#dd0000"/>
<circle cx="84.0" cy="204.9" r="2.2" fill="#dd0000"/>
<circle cx="85.6" cy="204.0" r="2.2" fill="#dd0000"/>
<circle cx="87.2" cy="202.0" r="2.2" fill="#dd0000"/>
<circle cx="88.8" cy="201.3" r="2.2" fill="#dd0000"/>
<circle cx="90.4" cy="200.9" r="2.2" fill="#dd0000"/>
<circle cx="92.0" cy="201.5" r="2.2" fill="#dd0000"/>
<circle cx="93.6" cy="200.2" r="2.2" fill="#dd0000"/>
<circle cx="95.2" cy="200.3" r="2.2" fill="#dd0000"/>
<circle cx="96.8" cy="198.7" r="2.2" fill="#dd0000"/>
<circle cx="98.4" cy="198.4" r="2.2" fill="#dd0000"/>
<circle cx="100.0" cy="198.5" r="2.2" fill="#dd0000"/>
<circle cx="101.6" cy="199.1" r="2.2" fill="#dd0000"/>
<circle cx="103.2" cy="198.8" r="2.2" fill="#dd0000"/>
<circle cx="104.8" cy="198.4" r="2.2" fill="#dd0000"/>
<circle cx="106.4" cy="197.3" r="2.2" fill="#dd0000"/>
<circle cx="108.0" cy="197.4" r="2.2" fill="#dd0000"/>
<circle cx="109.6" cy="197.0" r="2.2" fill="#dd0000"/>
<circle cx="111.2" cy="196.7" r="2.2" fill="#dd0000"/>
<circle cx="112.8" cy="195.6" r="2.2" fill="#dd0000"/>
<circle cx="114.4" cy="197.0" r="2.2" fill="#dd0000"/>
<circle cx="116.0" cy="195.1" r="2.2" fill="#dd0000"/>
<circle cx="117.6" cy="196.5" r="2.2" fill="#dd0000"/>
<circle cx="119.2" cy="196.1" r="2.2" fill="#dd0000"/>
<circle cx="120.8" cy="193.9" r="2.2" fill="#dd0000"/>
<circle cx="122.4" cy="194.7" r="2.2" fill="#dd0000"/>
<circle cx="124.0" cy="195.4" r="2.2" fill="#dd0000"/>
<circle cx="125.6" cy="195.7" r="2.2" fill="#dd0000"/>
<circle cx="127.2" cy="194.4" r="2.2" fill="#dd0000"/>
<circle cx="128.8" cy="193.9" r="2.2" fill="#dd0000"/>
<circle cx="130.4" cy="193.7" r="2.2" fill="#dd0000"/>
<circle cx="132.0" cy="195.2" r="2.2" fill="#dd0000"/>
<circle cx="133.6" cy="193.5" r="2.2" fill="#dd0000"/>
<circle cx="135.2" cy="194.2" r="2.2" fill="#dd0000"/>
<circle cx="136.8" cy="193.1" r="2.2" fill="#dd0000"/>
<circle cx="138.4" cy="193.8" r="2.2" fill="#dd0000"/>
<circle cx="140.0" cy="194.7" r="2.2" fill="#dd0000"/>
<circle cx="141.6" cy="192.8" r="2.2" fill="#dd0000"/>
<circle cx="143.2" cy="194.2" r="2.2" fill="#dd0000"/>
<circle cx="144.8" cy="193.4" r="2.2" fill="#dd0000"/>
<circle cx="146.4" cy="194.1" r="2.2" fill="#dd0000"/>
<circle cx="148.0" cy="193.6" r="2.2" fill="#dd0000"/>
<circle cx="149.6" cy="192.4" r="2.2" fill="#dd0000"/>
<circle cx="151.2" cy="193.8" r="2.2" fill="#dd0000"/>
<circle cx="152.8" cy="192.8" r="2.2" fill="#dd0000"/>
<circle cx="154.4" cy="191.7" r="2.2" fill="#dd0000"/>
<circle cx="156.0" cy="191.5" r="2.2" fill="#dd0000"/>
<circle cx="157.6" cy="192.5" r="2.2" fill="#dd0000"/>
<circle cx="159.2" cy="192.3" r="2.2" fill="#dd0000"/>
<circle cx="160.8" cy="191.9" r="2.2" fill="#dd0000"/>
<circle cx="162.4" cy="191.5" r="2.2" fill="#dd0000"/>
<circle cx="164.0" cy="191.8" r="2.2" fill="#dd0000"/>
<circle cx="165.6" cy="191.7" r="2.2" fill="#dd0000"/>
<circle cx="167.2" cy="192.7" r="2.2" fill="#dd0000"/>
<circle cx="168.8" cy="190.8" r="2.2" fill="#dd0000"/>
<circle cx="170.4" cy="192.3" r="2.2" fill="#dd0000"/>
<circle cx="172.0" cy="192.4" r="2.2" fill="#dd0000"/>
<circle cx="173.6" cy="190.7" r="2.2" fill="#dd0000"/>
<circle cx="175.2" cy="192.4" r="2.2" fill="#dd0000"/>
<circle cx="176.8" cy="191.9" r="2.2" fill="#dd0000"/>
<circle cx="178.4" cy="192.2" r="2.2" fill="#dd0000"/>
<circle cx="180.0" cy="190.7" r="2.2" fill="#dd0000"/>
<circle cx="181.6" cy="190.8" r="2.2" fill="#dd0000"/>
<circle cx="183.2" cy="190.8" r="2.2" fill="#dd0000"/>
<circle cx="184.8" cy="192.0" r="2.2" fill="#dd0000"/>
<circle cx="186.4" cy="191.0" r="2.2" fill="#dd0000"/>
<circle cx="188.0" cy="190.4" r="2.2" fill="#dd0000"/>
<circle cx="189.6" cy="190.5" r="2.2" fill="#dd0000"/>
<circle cx="191.2" cy="190.0" r="2.2" fill="#dd0000"/>
<circle cx="192.8" cy="189.4" r="2.2" fill="#dd0000"/>
<circle cx="194.4" cy="189.5" r="2.2" fill="#dd0000"/>
<circle cx="196.0" cy="191.0" r="2.2" fill="#dd0000"/>
<circle cx="197.6" cy="189.7" r="2.2" fill="#dd0000"/>
<circle cx="199.2" cy="191.0" r="2.2" fill="#dd0000"/>
<circle cx="200.8" cy="189.4" r="2.2" fill="#dd0000"/>
<circle cx="202.4" cy="189.5" r="2.2" fill="#dd0000"/>
<circle cx="204.0" cy="190.0" r="2.2" fill="#dd0000"/>
<rect x="71.6" y="212.9" width="3.8" height="3.8" fill="#000"/>
<rect x="73.2" y="208.5" width="3.8" height="3.8" fill="#000"/>
<rect x="74.8" y="205.2" width="3.8" height="3.8" fill="#000"/>
<rect x="76.4" y="200.9" width="3.8" height="3.8" fill="#000"/>
<rect x="78.0" y="196.0" width="3.8" height="3.8" fill="#000"/>
<rect x="79.6" y="193.3" width="3.8" height="3.8" fill="#000"/>
<rect x="81.2" y="191.8" width="3.8" height="3.8" fill="#000"/>
<rect x="82.8" y="191.5" width="3.8" height="3.8" fill="#000"/>
<rect x="84.4" y="190.4" width="3.8" height="3.8" fill="#000"/>
<rect x="86.0" y="190.3" width="3.8" height="3.8" fill="#000"/>
<rect x="87.6" y="188.7" width="3.8" height="3.8" fill="#000"/>
<rect x="89.2" y="189.5" width="3.8" height="3.8" fill="#000"/>
<rect x="90.8" y="188.6" width="3.8" height="3.8" fill="#000"/>
<rect x="92.4" y="188.7" width="3.8" height="3.8" fill="#000"/>
<rect x="94.0" y="188.3" width="3.8" height="3.8" fill="#000"/>
<rect x="95.6" y="187.6" width="3.8" height="3.8" fill="#000"/>
<rect x="97.2" y="187.1" width="3.8" height="3.8" fill="#000"/>
<rect x="98.8" y="188.6" width="3.8" height="3.8" fill="#000"/>
<rect x="100.4" y="187.1" width="3.8" height="3.8" fill="#000"/>
<rect x="102.0" y="187.7" width="3.8" height="3.8" fill="#000"/>
<rect x="103.6" y="187.4" width="3.8" height="3.8" fill="#000"/>
<rect x="105.2" y="187.3" width="3.8" height="3.8" fill="#000"/>
<rect x="106.8" y="188.0" width="3.8" height="3.8" fill="#000"/>
<rect x="108.4" y="188.3" width="3.8" height="3.8" fill="#000"/>
<rect x="110.0" y="187.0" width="3.8" height="3.8" fill="#000"/>
<rect x="111.6" y="187.6" width="3.8" height="3.8" fill="#000"/>
<rect x="113.2" y="186.9" width="3.8" height="3.8" fill="#000"/>
<rect x="114.8" y="187.3" width="3.8" height="3.8" fill="#000"/>
<rect x="116.4" y="187.0" width="3.8" height="3.8" fill="#000"/>
<rect x="118.0" y="186.5" width="3.8" height="3.8" fill="#000"/>
<rect x="119.6" y="186.4" width="3.8" height="3.8" fill="#000"/>
<rect x="121.2" y="186.5" width="3.8" height="3.8" fill="#000"/>
<rect x="122.8" y="187.7" width="3.8" height="3.8" fill="#000"/>
<rect x="124.4" y="186.9" width="3.8" height="3.8" fill="#000"/>
<rect x="126.0" y="186.3" width="3.8" height="3.8" fill="#000"/>
<rect x="127.6" y="187.5" width="3.8" height="3.8" fill="#000"/>
<rect x="129.2" y="187.6" width="3.8" height="3.8" fill="#000"/>
<rect x="130.8" y="186.6" width="3.8" height="3.8" fill="#000"/>
<rect x="132.4" y="186.0" width="3.8" height="3.8" fill="#000"/>
<rect x="134.0" y="186.0" width="3.8" height="3.8" fill="#000"/>
<rect x="135.6" y="185.8" width="3.8" height="3.8" fill="#000"/>
<rect x="137.2" y="186.2" width="3.8" height="3.8" fill="#000"/>
<rect x="138.8" y="185.7" width="3.8" height="3.8" fill="#000"/>
<rect x="140.4" y="185.9" width="3.8" height="3.8" fill="#000"/>
<rect x="142.0" y="185.9" width="3.8" height="3.8" fill="#000"/>
<rect x="143.6" y="186.4" width="3.8" height="3.8" fill="#000"/>
<rect x="145.2" y="186.9" width="3.8" height="3.8" fill="#000"/>
<rect x="146.8" y="186.6" width="3.8" height="3.8" fill="#000"/>
<rect x="148.4" y="185.9" width="3.8" height="3.8" fill="#000"/>
<rect x="150.0" y="185.9" width="3.8" height="3.8" fill="#000"/>
<rect x="151.6" y="186.1" width="3.8" height="3.8" fill="#000"/>
<rect x="153.2" y="185.8" width="3.8" height="3.8" fill="#000"/>
<rect x="154.8" y="185.7" width="3.8" height="3.8" fill="#000"/>
<rect x="156.4" y="185.1" width="3.8" height="3.8" fill="#000"/>
<rect x="158.0" y="185.5" width="3.8" height="3.8" fill="#000"/>
<rect x="159.6" y="186.7" width="3.8" height="3.8" fill="#000"/>
<rect x="161.2" y="185.2" width="3.8" height="3.8" fill="#000"/>
<rect x="162.8" y="185.8" width="3.8" height="3.8" fill="#000"/>
<rect x="164.4" y="186.0" width="3.8" height="3.8" fill="#000"/>
<rect x="166.0" y="186.4" width="3.8" height="3.8" fill="#000"/>
<rect x="167.6" y="185.2" width="3.8" height="3.8" fill="#000"/>
<rect x="169.2" y="185.3" width="3.8" height="3.8" fill="#000"/>
<rect x="170.8" y="185.2" width="3.8" height="3.8" fill="#000"/>
<rect x="172.4" y="185.4" width="3.8" height="3.8" fill="#000"/>
<rect x="174.0" y="185.5" width="3.8" height="3.8" fill="#000"/>
<rect x="175.6" y="186.4" width="3.8" height="3.8" fill="#000"/>
<rect x="177.2" y="186.1" width="3.8" height="3.8" fill="#000"/>
<rect x="178.8" y="186.2" width="3.8" height="3.8" fill="#000"/>
<rect x="180.4" y="184.6" width="3.8" height="3.8" fill="#000"/>
<rect x="182.0" y="184.6" width="3.8" height="3.8" fill="#000"/>
<rect x="183.6" y="185.8" width="3.8" height="3.8" fill="#000"/>
<rect x="185.2" y="186.1" width="3.8" height="3.8" fill="#000"/>
<rect x="186.8" y="185.3" width="3.8" height="3.8" fill="#000"/>
<rect x="188.4" y="185.5" width="3.8" height="3.8" fill="#000"/>
<rect x="190.0" y="184.4" width="3.8" height="3.8" fill="#000"/>
<rect x="191.6" y="185.0" width="3.8" height="3.8" fill="#000"/>
<rect x="193.2" y="186.0" width="3.8" height="3.8" fill="#000"/>
<rect x="194.8" y="185.8" width="3.8" height="3.8" fill="#000"/>
<rect x="196.4" y="185.8" width="3.8" height="3.8" fill="#000"/>
<rect x="198.0" y="186.0" width="3.8" height="3.8" fill="#000"/>
<rect x="199.6" y="184.6" width="3.8" height="3.8" fill="#000"/>
<rect x="201.2" y="184.4" width="3.8" height="3.8" fill="#000"/>
<rect x="202.8" y="184.5" width="3.8" height="3.8" fill="#000"/>
</g>
<line x1="79.2" y1="190" x2="79.2" y2="202" stroke="#777" stroke-width="1"/>
<line x1="76" y1="205" x2="76" y2="226" stroke="#dd0000" stroke-width="1"/>
<line x1="91.5" y1="231" x2="91.5" y2="249" stroke="#000099" stroke-width="1"/>
<line x1="180.4" y1="249.6" x2="180.4" y2="267.2" stroke="#66cc66" stroke-width="1"/>
<rect x="201" y="133" width="119.5" height="89.3" fill="#efefef"/>
<line x1="320.5" y1="133" x2="320.5" y2="222.5" stroke="#666" stroke-width="1"/>
<line x1="201" y1="222.3" x2="321" y2="222.3" stroke="#666" stroke-width="1"/>
<rect x="214.2" y="138.2" width="3.6" height="3.6" fill="#000"/>
<text x="231" y="144.0" font-size="11.2" font-weight="bold" fill="#000" textLength="88.5" lengthAdjust="spacingAndGlyphs"><tspan font-weight="normal" font-family="Liberation Serif, serif" font-size="12.5">Φ</tspan><tspan font-size="8" dy="3">eq</tspan><tspan dy="-3"> = 1×10</tspan><tspan font-size="8" dy="-5">14</tspan><tspan dy="5">cm</tspan><tspan font-size="8" dy="-5">-2</tspan></text>
<circle cx="216.0" cy="155.0" r="2" fill="#dd0000"/>
<text x="231" y="159.0" font-size="11.2" font-weight="bold" fill="#000" textLength="88.5" lengthAdjust="spacingAndGlyphs"><tspan font-weight="normal" font-family="Liberation Serif, serif" font-size="12.5">Φ</tspan><tspan font-size="8" dy="3">eq</tspan><tspan dy="-3"> = 3×10</tspan><tspan font-size="8" dy="-5">14</tspan><tspan dy="5">cm</tspan><tspan font-size="8" dy="-5">-2</tspan></text>
<path d="M216.0 167.8L218.0 171.8L214.0 171.8Z" fill="#000099"/>
<text x="231" y="174.0" font-size="11.2" font-weight="bold" fill="#000" textLength="88.5" lengthAdjust="spacingAndGlyphs"><tspan font-weight="normal" font-family="Liberation Serif, serif" font-size="12.5">Φ</tspan><tspan font-size="8" dy="3">eq</tspan><tspan dy="-3"> = 1×10</tspan><tspan font-size="8" dy="-5">15</tspan><tspan dy="5">cm</tspan><tspan font-size="8" dy="-5">-2</tspan></text>
<path d="M216.0 187.7L218.0 183.7L214.0 183.7Z" fill="#66cc66"/>
<text x="231" y="189.5" font-size="11.2" font-weight="bold" fill="#000" textLength="88.5" lengthAdjust="spacingAndGlyphs"><tspan font-weight="normal" font-family="Liberation Serif, serif" font-size="12.5">Φ</tspan><tspan font-size="8" dy="3">eq</tspan><tspan dy="-3"> = 4×10</tspan><tspan font-size="8" dy="-5">15</tspan><tspan dy="5">cm</tspan><tspan font-size="8" dy="-5">-2</tspan></text>
<path d="M214.5 198.5L217.5 201.5M217.5 198.5L214.5 201.5M214.5 200.0L217.5 200.0" stroke="#cc22cc" stroke-width="1.1"/>
<text x="231" y="204.0" font-size="11.2" font-weight="bold" fill="#000" textLength="88.5" lengthAdjust="spacingAndGlyphs"><tspan font-weight="normal" font-family="Liberation Serif, serif" font-size="12.5">Φ</tspan><tspan font-size="8" dy="3">eq</tspan><tspan dy="-3"> = 7×10</tspan><tspan font-size="8" dy="-5">15</tspan><tspan dy="5">cm</tspan><tspan font-size="8" dy="-5">-2</tspan></text>
<text x="231" y="219.0" font-size="11.2" font-weight="bold" fill="#000" textLength="88.5" lengthAdjust="spacingAndGlyphs"><tspan font-weight="normal" font-family="Liberation Serif, serif" font-size="12.5">Φ</tspan><tspan font-size="8" dy="3">eq</tspan><tspan dy="-3"> = 1×10</tspan><tspan font-size="8" dy="-5">16</tspan><tspan dy="5">cm</tspan><tspan font-size="8" dy="-5">-2</tspan></text>
<line x1="369" y1="130" x2="490.5" y2="130" stroke="#666" stroke-width="1"/>
<text x="377" y="138.8" font-size="9.5" fill="#000" stroke="#000" stroke-width="0.3" textLength="106" lengthAdjust="spacingAndGlyphs">CCE of p-EPI-ST 150µm</text>
<line x1="395" y1="151.2" x2="628" y2="151.2" stroke="#555" stroke-width="1"/>
<line x1="627.5" y1="151" x2="627.5" y2="331" stroke="#555" stroke-width="1"/>
<line x1="395" y1="331" x2="627.5" y2="331" stroke="#ddd" stroke-width="0.6"/>
<line x1="395" y1="323.1" x2="398.5" y2="323.1" stroke="#aaa" stroke-width="0.8"/>
<line x1="395" y1="315.7" x2="398.5" y2="315.7" stroke="#aaa" stroke-width="0.8"/>
<line x1="395" y1="308.2" x2="398.5" y2="308.2" stroke="#aaa" stroke-width="0.8"/>
<line x1="395" y1="300.7" x2="401.7" y2="300.7" stroke="#888" stroke-width="1"/>
<line x1="395" y1="293.3" x2="398.5" y2="293.3" stroke="#aaa" stroke-width="0.8"/>
<line x1="395" y1="285.8" x2="398.5" y2="285.8" stroke="#aaa" stroke-width="0.8"/>
<line x1="395" y1="278.3" x2="398.5" y2="278.3" stroke="#aaa" stroke-width="0.8"/>
<line x1="395" y1="270.9" x2="401.7" y2="270.9" stroke="#888" stroke-width="1"/>
<line x1="395" y1="263.4" x2="398.5" y2="263.4" stroke="#aaa" stroke-width="0.8"/>
<line x1="395" y1="255.9" x2="398.5" y2="255.9" stroke="#aaa" stroke-width="0.8"/>
<line x1="395" y1="248.5" x2="398.5" y2="248.5" stroke="#aaa" stroke-width="0.8"/>
<line x1="395" y1="241.0" x2="401.7" y2="241.0" stroke="#888" stroke-width="1"/>
<line x1="395" y1="233.5" x2="398.5" y2="233.5" stroke="#aaa" stroke-width="0.8"/>
<line x1="395" y1="226.1" x2="398.5" y2="226.1" stroke="#aaa" stroke-width="0.8"/>
<line x1="395" y1="218.6" x2="398.5" y2="218.6" stroke="#aaa" stroke-width="0.8"/>
<line x1="395" y1="211.1" x2="401.7" y2="211.1" stroke="#888" stroke-width="1"/>
<line x1="395" y1="203.7" x2="398.5" y2="203.7" stroke="#aaa" stroke-width="0.8"/>
<line x1="395" y1="196.2" x2="398.5" y2="196.2" stroke="#aaa" stroke-width="0.8"/>
<line x1="395" y1="188.7" x2="398.5" y2="188.7" stroke="#aaa" stroke-width="0.8"/>
<line x1="395" y1="181.3" x2="401.7" y2="181.3" stroke="#888" stroke-width="1"/>
<line x1="395" y1="173.8" x2="398.5" y2="173.8" stroke="#aaa" stroke-width="0.8"/>
<line x1="395" y1="166.3" x2="398.5" y2="166.3" stroke="#aaa" stroke-width="0.8"/>
<line x1="395" y1="158.8" x2="398.5" y2="158.8" stroke="#aaa" stroke-width="0.8"/>
<line x1="395" y1="151.4" x2="401.7" y2="151.4" stroke="#888" stroke-width="1"/>
<text x="393.3" y="156.9" font-size="10.5" stroke="#000" stroke-width="0.35" text-anchor="end" fill="#000">1.2</text>
<text x="393.3" y="186.8" font-size="10.5" stroke="#000" stroke-width="0.35" text-anchor="end" fill="#000">1</text>
<text x="393.3" y="216.6" font-size="10.5" stroke="#000" stroke-width="0.35" text-anchor="end" fill="#000">0.8</text>
<text x="393.3" y="246.5" font-size="10.5" stroke="#000" stroke-width="0.35" text-anchor="end" fill="#000">0.6</text>
<text x="393.3" y="276.4" font-size="10.5" stroke="#000" stroke-width="0.35" text-anchor="end" fill="#000">0.4</text>
<text x="393.3" y="306.2" font-size="10.5" stroke="#000" stroke-width="0.35" text-anchor="end" fill="#000">0.2</text>
<text x="392.5" y="335" font-size="9.5" font-weight="bold" text-anchor="end" fill="#000">0</text>
<line x1="394.6" y1="327.0" x2="394.6" y2="331" stroke="#555" stroke-width="0.8"/>
<line x1="406.2" y1="329.0" x2="406.2" y2="331" stroke="#555" stroke-width="0.8"/>
<line x1="417.8" y1="329.0" x2="417.8" y2="331" stroke="#555" stroke-width="0.8"/>
<line x1="429.3" y1="329.0" x2="429.3" y2="331" stroke="#555" stroke-width="0.8"/>
<line x1="440.9" y1="327.0" x2="440.9" y2="331" stroke="#555" stroke-width="0.8"/>
<line x1="452.5" y1="329.0" x2="452.5" y2="331" stroke="#555" stroke-width="0.8"/>
<line x1="464.1" y1="329.0" x2="464.1" y2="331" stroke="#555" stroke-width="0.8"/>
<line x1="475.6" y1="329.0" x2="475.6" y2="331" stroke="#555" stroke-width="0.8"/>
<line x1="487.2" y1="327.0" x2="487.2" y2="331" stroke="#555" stroke-width="0.8"/>
<line x1="498.8" y1="329.0" x2="498.8" y2="331" stroke="#555" stroke-width="0.8"/>
<line x1="510.4" y1="329.0" x2="510.4" y2="331" stroke="#555" stroke-width="0.8"/>
<line x1="521.9" y1="329.0" x2="521.9" y2="331" stroke="#555" stroke-width="0.8"/>
<line x1="533.5" y1="327.0" x2="533.5" y2="331" stroke="#555" stroke-width="0.8"/>
<line x1="545.1" y1="329.0" x2="545.1" y2="331" stroke="#555" stroke-width="0.8"/>
<line x1="556.7" y1="329.0" x2="556.7" y2="331" stroke="#555" stroke-width="0.8"/>
<line x1="568.2" y1="329.0" x2="568.2" y2="331" stroke="#555" stroke-width="0.8"/>
<line x1="579.8" y1="327.0" x2="579.8" y2="331" stroke="#555" stroke-width="0.8"/>
<line x1="591.4" y1="329.0" x2="591.4" y2="331" stroke="#555" stroke-width="0.8"/>
<line x1="603.0" y1="329.0" x2="603.0" y2="331" stroke="#555" stroke-width="0.8"/>
<line x1="614.5" y1="329.0" x2="614.5" y2="331" stroke="#555" stroke-width="0.8"/>
<line x1="626.1" y1="327.0" x2="626.1" y2="331" stroke="#555" stroke-width="0.8"/>
<text x="394.6" y="342" font-size="10" font-weight="bold" text-anchor="middle" fill="#000">0</text>
<text x="440.9" y="342" font-size="10" font-weight="bold" text-anchor="middle" fill="#000">200</text>
<text x="487.2" y="342" font-size="10" font-weight="bold" text-anchor="middle" fill="#000">400</text>
<text x="533.5" y="342" font-size="10" font-weight="bold" text-anchor="middle" fill="#000">600</text>
<text x="579.8" y="342" font-size="10" font-weight="bold" text-anchor="middle" fill="#000">800</text>
<text x="626.1" y="342" font-size="10" font-weight="bold" text-anchor="middle" fill="#000">1000</text>
<text x="603.7" y="353.7" font-size="10.5" font-weight="bold" fill="#000" textLength="24.3" lengthAdjust="spacingAndGlyphs">U [V]</text>
<text transform="translate(376.7,172) rotate(-90)" x="0" y="0" font-size="10.5" font-weight="bold" fill="#000" textLength="21" lengthAdjust="spacingAndGlyphs">CCE</text>
<g>
<path d="M439.5 301.8L441.5 303.8M441.5 301.8L439.5 303.8M439.5 302.8L441.5 302.8" stroke="#cc22cc" stroke-width="1.1"/>
<path d="M440.7 301.9L442.7 303.9M442.7 301.9L440.7 303.9M440.7 302.9L442.7 302.9" stroke="#cc22cc" stroke-width="1.1"/>
<path d="M441.9 302.1L443.9 304.1M443.9 302.1L441.9 304.1M441.9 303.1L443.9 303.1" stroke="#cc22cc" stroke-width="1.1"/>
<path d="M443.1 301.4L445.1 303.4M445.1 301.4L443.1 303.4M443.1 302.4L445.1 302.4" stroke="#cc22cc" stroke-width="1.1"/>
<path d="M444.3 301.0L446.3 303.0M446.3 301.0L444.3 303.0M444.3 302.0L446.3 302.0" stroke="#cc22cc" stroke-width="1.1"/>
<path d="M445.5 300.9L447.5 302.9M447.5 300.9L445.5 302.9M445.5 301.9L447.5 301.9" stroke="#cc22cc" stroke-width="1.1"/>
<path d="M446.7 300.1L448.7 302.1M448.7 300.1L446.7 302.1M446.7 301.1L448.7 301.1" stroke="#cc22cc" stroke-width="1.1"/>
<path d="M447.9 300.0L449.9 302.0M449.9 300.0L447.9 302.0M447.9 301.0L449.9 301.0" stroke="#cc22cc" stroke-width="1.1"/>
<path d="M449.1 298.8L451.1 300.8M451.1 298.8L449.1 300.8M449.1 299.8L451.1 299.8" stroke="#cc22cc" stroke-width="1.1"/>
<path d="M450.3 299.9L452.3 301.9M452.3 299.9L450.3 301.9M450.3 300.9L452.3 300.9" stroke="#cc22cc" stroke-width="1.1"/>
<path d="M451.5 298.7L453.5 300.7M453.5 298.7L451.5 300.7M451.5 299.7L453.5 299.7" stroke="#cc22cc" stroke-width="1.1"/>
<path d="M452.7 299.6L454.7 301.6M454.7 299.6L452.7 301.6M452.7 300.6L454.7 300.6" stroke="#cc22cc" stroke-width="1.1"/>
<path d="M453.9 298.9L455.9 300.9M455.9 298.9L453.9 300.9M453.9 299.9L455.9 299.9" stroke="#cc22cc" stroke-width="1.1"/>
<path d="M455.1 298.0L457.1 300.0M457.1 298.0L455.1 300.0M455.1 299.0L457.1 299.0" stroke="#cc22cc" stroke-width="1.1"/>
<path d="M456.3 297.4L458.3 299.4M458.3 297.4L456.3 299.4M456.3 298.4L458.3 298.4" stroke="#cc22cc" stroke-width="1.1"/>
<path d="M457.5 297.4L459.5 299.4M459.5 297.4L457.5 299.4M457.5 298.4L459.5 298.4" stroke="#cc22cc" stroke-width="1.1"/>
<path d="M458.7 297.8L460.7 299.8M460.7 297.8L458.7 299.8M458.7 298.8L460.7 298.8" stroke="#cc22cc" stroke-width="1.1"/>
<path d="M459.9 297.6L461.9 299.6M461.9 297.6L459.9 299.6M459.9 298.6L461.9 298.6" stroke="#cc22cc" stroke-width="1.1"/>
<path d="M461.1 296.3L463.1 298.3M463.1 296.3L461.1 298.3M461.1 297.3L463.1 297.3" stroke="#cc22cc" stroke-width="1.1"/>
<path d="M462.3 296.0L464.3 298.0M464.3 296.0L462.3 298.0M462.3 297.0L464.3 297.0" stroke="#cc22cc" stroke-width="1.1"/>
<path d="M463.5 296.5L465.5 298.5M465.5 296.5L463.5 298.5M463.5 297.5L465.5 297.5" stroke="#cc22cc" stroke-width="1.1"/>
<path d="M464.7 296.4L466.7 298.4M466.7 296.4L464.7 298.4M464.7 297.4L466.7 297.4" stroke="#cc22cc" stroke-width="1.1"/>
<path d="M465.9 295.7L467.9 297.7M467.9 295.7L465.9 297.7M465.9 296.7L467.9 296.7" stroke="#cc22cc" stroke-width="1.1"/>
<path d="M467.1 295.2L469.1 297.2M469.1 295.2L467.1 297.2M467.1 296.2L469.1 296.2" stroke="#cc22cc" stroke-width="1.1"/>
<path d="M468.3 295.6L470.3 297.6M470.3 295.6L468.3 297.6M468.3 296.6L470.3 296.6" stroke="#cc22cc" stroke-width="1.1"/>
<path d="M469.5 294.3L471.5 296.3M471.5 294.3L469.5 296.3M469.5 295.3L471.5 295.3" stroke="#cc22cc" stroke-width="1.1"/>
<path d="M470.7 294.5L472.7 296.5M472.7 294.5L470.7 296.5M470.7 295.5L472.7 295.5" stroke="#cc22cc" stroke-width="1.1"/>
<path d="M471.9 294.5L473.9 296.5M473.9 294.5L471.9 296.5M471.9 295.5L473.9 295.5" stroke="#cc22cc" stroke-width="1.1"/>
<path d="M473.1 295.2L475.1 297.2M475.1 295.2L473.1 297.2M473.1 296.2L475.1 296.2" stroke="#cc22cc" stroke-width="1.1"/>
<path d="M474.3 294.3L476.3 296.3M476.3 294.3L474.3 296.3M474.3 295.3L476.3 295.3" stroke="#cc22cc" stroke-width="1.1"/>
<path d="M475.5 294.5L477.5 296.5M477.5 294.5L475.5 296.5M475.5 295.5L477.5 295.5" stroke="#cc22cc" stroke-width="1.1"/>
<path d="M476.7 293.5L478.7 295.5M478.7 293.5L476.7 295.5M476.7 294.5L478.7 294.5" stroke="#cc22cc" stroke-width="1.1"/>
<path d="M477.9 292.8L479.9 294.8M479.9 292.8L477.9 294.8M477.9 293.8L479.9 293.8" stroke="#cc22cc" stroke-width="1.1"/>
<path d="M479.1 292.6L481.1 294.6M481.1 292.6L479.1 294.6M479.1 293.6L481.1 293.6" stroke="#cc22cc" stroke-width="1.1"/>
<path d="M480.3 293.6L482.3 295.6M482.3 293.6L480.3 295.6M480.3 294.6L482.3 294.6" stroke="#cc22cc" stroke-width="1.1"/>
<path d="M481.5 292.8L483.5 294.8M483.5 292.8L481.5 294.8M481.5 293.8L483.5 293.8" stroke="#cc22cc" stroke-width="1.1"/>
<path d="M482.7 291.9L484.7 293.9M484.7 291.9L482.7 293.9M482.7 292.9L484.7 292.9" stroke="#cc22cc" stroke-width="1.1"/>
<path d="M483.9 291.1L485.9 293.1M485.9 291.1L483.9 293.1M483.9 292.1L485.9 292.1" stroke="#cc22cc" stroke-width="1.1"/>
<path d="M485.1 291.7L487.1 293.7M487.1 291.7L485.1 293.7M485.1 292.7L487.1 292.7" stroke="#cc22cc" stroke-width="1.1"/>
<path d="M486.3 291.7L488.3 293.7M488.3 291.7L486.3 293.7M486.3 292.7L488.3 292.7" stroke="#cc22cc" stroke-width="1.1"/>
<path d="M487.5 291.0L489.5 293.0M489.5 291.0L487.5 293.0M487.5 292.0L489.5 292.0" stroke="#cc22cc" stroke-width="1.1"/>
<path d="M488.7 290.4L490.7 292.4M490.7 290.4L488.7 292.4M488.7 291.4L490.7 291.4" stroke="#cc22cc" stroke-width="1.1"/>
<path d="M489.9 290.9L491.9 292.9M491.9 290.9L489.9 292.9M489.9 291.9L491.9 291.9" stroke="#cc22cc" stroke-width="1.1"/>
<path d="M491.1 291.0L493.1 293.0M493.1 291.0L491.1 293.0M491.1 292.0L493.1 292.0" stroke="#cc22cc" stroke-width="1.1"/>
<path d="M492.3 289.3L494.3 291.3M494.3 289.3L492.3 291.3M492.3 290.3L494.3 290.3" stroke="#cc22cc" stroke-width="1.1"/>
<path d="M493.5 288.6L495.5 290.6M495.5 288.6L493.5 290.6M493.5 289.6L495.5 289.6" stroke="#cc22cc" stroke-width="1.1"/>
<path d="M494.7 288.7L496.7 290.7M496.7 288.7L494.7 290.7M494.7 289.7L496.7 289.7" stroke="#cc22cc" stroke-width="1.1"/>
<path d="M495.9 288.5L497.9 290.5M497.9 288.5L495.9 290.5M495.9 289.5L497.9 289.5" stroke="#cc22cc" stroke-width="1.1"/>
<path d="M497.1 288.6L499.1 290.6M499.1 288.6L497.1 290.6M497.1 289.6L499.1 289.6" stroke="#cc22cc" stroke-width="1.1"/>
<path d="M498.3 287.3L500.3 289.3M500.3 287.3L498.3 289.3M498.3 288.3L500.3 288.3" stroke="#cc22cc" stroke-width="1.1"/>
<path d="M499.5 288.0L501.5 290.0M501.5 288.0L499.5 290.0M499.5 289.0L501.5 289.0" stroke="#cc22cc" stroke-width="1.1"/>
<path d="M500.7 287.5L502.7 289.5M502.7 287.5L500.7 289.5M500.7 288.5L502.7 288.5" stroke="#cc22cc" stroke-width="1.1"/>
<path d="M501.9 286.7L503.9 288.7M503.9 286.7L501.9 288.7M501.9 287.7L503.9 287.7" stroke="#cc22cc" stroke-width="1.1"/>
<path d="M503.1 285.8L505.1 287.8M505.1 285.8L503.1 287.8M503.1 286.8L505.1 286.8" stroke="#cc22cc" stroke-width="1.1"/>
<path d="M504.3 286.8L506.3 288.8M506.3 286.8L504.3 288.8M504.3 287.8L506.3 287.8" stroke="#cc22cc" stroke-width="1.1"/>
<path d="M505.5 285.2L507.5 287.2M507.5 285.2L505.5 287.2M505.5 286.2L507.5 286.2" stroke="#cc22cc" stroke-width="1.1"/>
<path d="M506.7 285.7L508.7 287.7M508.7 285.7L506.7 287.7M506.7 286.7L508.7 286.7" stroke="#cc22cc" stroke-width="1.1"/>
<path d="M507.9 284.3L509.9 286.3M509.9 284.3L507.9 286.3M507.9 285.3L509.9 285.3" stroke="#cc22cc" stroke-width="1.1"/>
<path d="M509.1 283.9L511.1 285.9M511.1 283.9L509.1 285.9M509.1 284.9L511.1 284.9" stroke="#cc22cc" stroke-width="1.1"/>
<path d="M510.3 284.5L512.3 286.5M512.3 284.5L510.3 286.5M510.3 285.5L512.3 285.5" stroke="#cc22cc" stroke-width="1.1"/>
<path d="M511.5 283.3L513.5 285.3M513.5 283.3L511.5 285.3M511.5 284.3L513.5 284.3" stroke="#cc22cc" stroke-width="1.1"/>
<path d="M512.7 284.1L514.7 286.1M514.7 284.1L512.7 286.1M512.7 285.1L514.7 285.1" stroke="#cc22cc" stroke-width="1.1"/>
<path d="M513.9 282.9L515.9 284.9M515.9 282.9L513.9 284.9M513.9 283.9L515.9 283.9" stroke="#cc22cc" stroke-width="1.1"/>
<path d="M515.1 281.9L517.1 283.9M517.1 281.9L515.1 283.9M515.1 282.9L517.1 282.9" stroke="#cc22cc" stroke-width="1.1"/>
<path d="M516.3 281.6L518.3 283.6M518.3 281.6L516.3 283.6M516.3 282.6L518.3 282.6" stroke="#cc22cc" stroke-width="1.1"/>
<path d="M517.5 281.6L519.5 283.6M519.5 281.6L517.5 283.6M517.5 282.6L519.5 282.6" stroke="#cc22cc" stroke-width="1.1"/>
<path d="M518.7 281.6L520.7 283.6M520.7 281.6L518.7 283.6M518.7 282.6L520.7 282.6" stroke="#cc22cc" stroke-width="1.1"/>
<path d="M519.9 281.7L521.9 283.7M521.9 281.7L519.9 283.7M519.9 282.7L521.9 282.7" stroke="#cc22cc" stroke-width="1.1"/>
<path d="M521.1 279.9L523.1 281.9M523.1 279.9L521.1 281.9M521.1 280.9L523.1 280.9" stroke="#cc22cc" stroke-width="1.1"/>
<path d="M522.3 280.0L524.3 282.0M524.3 280.0L522.3 282.0M522.3 281.0L524.3 281.0" stroke="#cc22cc" stroke-width="1.1"/>
<path d="M523.5 279.3L525.5 281.3M525.5 279.3L523.5 281.3M523.5 280.3L525.5 280.3" stroke="#cc22cc" stroke-width="1.1"/>
<path d="M524.7 280.2L526.7 282.2M526.7 280.2L524.7 282.2M524.7 281.2L526.7 281.2" stroke="#cc22cc" stroke-width="1.1"/>
<path d="M525.9 278.4L527.9 280.4M527.9 278.4L525.9 280.4M525.9 279.4L527.9 279.4" stroke="#cc22cc" stroke-width="1.1"/>
<path d="M527.1 277.8L529.1 279.8M529.1 277.8L527.1 279.8M527.1 278.8L529.1 278.8" stroke="#cc22cc" stroke-width="1.1"/>
<path d="M528.3 277.4L530.3 279.4M530.3 277.4L528.3 279.4M528.3 278.4L530.3 278.4" stroke="#cc22cc" stroke-width="1.1"/>
<path d="M529.5 277.8L531.5 279.8M531.5 277.8L529.5 279.8M529.5 278.8L531.5 278.8" stroke="#cc22cc" stroke-width="1.1"/>
<path d="M530.7 278.4L532.7 280.4M532.7 278.4L530.7 280.4M530.7 279.4L532.7 279.4" stroke="#cc22cc" stroke-width="1.1"/>
<path d="M531.9 278.1L533.9 280.1M533.9 278.1L531.9 280.1M531.9 279.1L533.9 279.1" stroke="#cc22cc" stroke-width="1.1"/>
<path d="M533.1 277.6L535.1 279.6M535.1 277.6L533.1 279.6M533.1 278.6L535.1 278.6" stroke="#cc22cc" stroke-width="1.1"/>
<path d="M534.3 277.8L536.3 279.8M536.3 277.8L534.3 279.8M534.3 278.8L536.3 278.8" stroke="#cc22cc" stroke-width="1.1"/>
<path d="M535.5 277.4L537.5 279.4M537.5 277.4L535.5 279.4M535.5 278.4L537.5 278.4" stroke="#cc22cc" stroke-width="1.1"/>
<path d="M536.7 276.1L538.7 278.1M538.7 276.1L536.7 278.1M536.7 277.1L538.7 277.1" stroke="#cc22cc" stroke-width="1.1"/>
<path d="M537.9 275.6L539.9 277.6M539.9 275.6L537.9 277.6M537.9 276.6L539.9 276.6" stroke="#cc22cc" stroke-width="1.1"/>
<path d="M539.1 276.7L541.1 278.7M541.1 276.7L539.1 278.7M539.1 277.7L541.1 277.7" stroke="#cc22cc" stroke-width="1.1"/>
<path d="M540.3 276.1L542.3 278.1M542.3 276.1L540.3 278.1M540.3 277.1L542.3 277.1" stroke="#cc22cc" stroke-width="1.1"/>
<path d="M541.5 274.5L543.5 276.5M543.5 274.5L541.5 276.5M541.5 275.5L543.5 275.5" stroke="#cc22cc" stroke-width="1.1"/>
<path d="M542.7 275.4L544.7 277.4M544.7 275.4L542.7 277.4M542.7 276.4L544.7 276.4" stroke="#cc22cc" stroke-width="1.1"/>
<path d="M543.9 274.6L545.9 276.6M545.9 274.6L543.9 276.6M543.9 275.6L545.9 275.6" stroke="#cc22cc" stroke-width="1.1"/>
<path d="M545.1 274.4L547.1 276.4M547.1 274.4L545.1 276.4M545.1 275.4L547.1 275.4" stroke="#cc22cc" stroke-width="1.1"/>
<path d="M546.3 274.0L548.3 276.0M548.3 274.0L546.3 276.0M546.3 275.0L548.3 275.0" stroke="#cc22cc" stroke-width="1.1"/>
<path d="M547.5 273.5L549.5 275.5M549.5 273.5L547.5 275.5M547.5 274.5L549.5 274.5" stroke="#cc22cc" stroke-width="1.1"/>
<path d="M548.7 272.9L550.7 274.9M550.7 272.9L548.7 274.9M548.7 273.9L550.7 273.9" stroke="#cc22cc" stroke-width="1.1"/>
<path d="M549.9 273.2L551.9 275.2M551.9 273.2L549.9 275.2M549.9 274.2L551.9 274.2" stroke="#cc22cc" stroke-width="1.1"/>
<path d="M551.1 273.0L553.1 275.0M553.1 273.0L551.1 275.0M551.1 274.0L553.1 274.0" stroke="#cc22cc" stroke-width="1.1"/>
<path d="M552.3 273.9L554.3 275.9M554.3 273.9L552.3 275.9M552.3 274.9L554.3 274.9" stroke="#cc22cc" stroke-width="1.1"/>
<path d="M553.5 272.1L555.5 274.1M555.5 272.1L553.5 274.1M553.5 273.1L555.5 273.1" stroke="#cc22cc" stroke-width="1.1"/>
<path d="M554.7 273.4L556.7 275.4M556.7 273.4L554.7 275.4M554.7 274.4L556.7 274.4" stroke="#cc22cc" stroke-width="1.1"/>
<path d="M555.9 271.7L557.9 273.7M557.9 271.7L555.9 273.7M555.9 272.7L557.9 272.7" stroke="#cc22cc" stroke-width="1.1"/>
<path d="M557.1 271.7L559.1 273.7M559.1 271.7L557.1 273.7M557.1 272.7L559.1 272.7" stroke="#cc22cc" stroke-width="1.1"/>
<path d="M558.3 272.3L560.3 274.3M560.3 272.3L558.3 274.3M558.3 273.3L560.3 273.3" stroke="#cc22cc" stroke-width="1.1"/>
<path d="M559.5 272.1L561.5 274.1M561.5 272.1L559.5 274.1M559.5 273.1L561.5 273.1" stroke="#cc22cc" stroke-width="1.1"/>
<path d="M560.7 271.1L562.7 273.1M562.7 271.1L560.7 273.1M560.7 272.1L562.7 272.1" stroke="#cc22cc" stroke-width="1.1"/>
<path d="M561.9 270.2L563.9 272.2M563.9 270.2L561.9 272.2M561.9 271.2L563.9 271.2" stroke="#cc22cc" stroke-width="1.1"/>
<path d="M563.1 270.7L565.1 272.7M565.1 270.7L563.1 272.7M563.1 271.7L565.1 271.7" stroke="#cc22cc" stroke-width="1.1"/>
<path d="M564.3 270.2L566.3 272.2M566.3 270.2L564.3 272.2M564.3 271.2L566.3 271.2" stroke="#cc22cc" stroke-width="1.1"/>
<path d="M565.5 270.9L567.5 272.9M567.5 270.9L565.5 272.9M565.5 271.9L567.5 271.9" stroke="#cc22cc" stroke-width="1.1"/>
<path d="M566.7 269.4L568.7 271.4M568.7 269.4L566.7 271.4M566.7 270.4L568.7 270.4" stroke="#cc22cc" stroke-width="1.1"/>
<path d="M567.9 269.4L569.9 271.4M569.9 269.4L567.9 271.4M567.9 270.4L569.9 270.4" stroke="#cc22cc" stroke-width="1.1"/>
<path d="M569.1 270.1L571.1 272.1M571.1 270.1L569.1 272.1M569.1 271.1L571.1 271.1" stroke="#cc22cc" stroke-width="1.1"/>
<path d="M570.3 268.2L572.3 270.2M572.3 268.2L570.3 270.2M570.3 269.2L572.3 269.2" stroke="#cc22cc" stroke-width="1.1"/>
<path d="M571.5 268.6L573.5 270.6M573.5 268.6L571.5 270.6M571.5 269.6L573.5 269.6" stroke="#cc22cc" stroke-width="1.1"/>
<path d="M572.7 269.0L574.7 271.0M574.7 269.0L572.7 271.0M572.7 270.0L574.7 270.0" stroke="#cc22cc" stroke-width="1.1"/>
<path d="M573.9 268.6L575.9 270.6M575.9 268.6L573.9 270.6M573.9 269.6L575.9 269.6" stroke="#cc22cc" stroke-width="1.1"/>
<path d="M575.1 267.0L577.1 269.0M577.1 267.0L575.1 269.0M575.1 268.0L577.1 268.0" stroke="#cc22cc" stroke-width="1.1"/>
<path d="M576.3 266.7L578.3 268.7M578.3 266.7L576.3 268.7M576.3 267.7L578.3 267.7" stroke="#cc22cc" stroke-width="1.1"/>
<path d="M577.5 266.5L579.5 268.5M579.5 266.5L577.5 268.5M577.5 267.5L579.5 267.5" stroke="#cc22cc" stroke-width="1.1"/>
<path d="M578.7 267.7L580.7 269.7M580.7 267.7L578.7 269.7M578.7 268.7L580.7 268.7" stroke="#cc22cc" stroke-width="1.1"/>
<path d="M579.9 266.2L581.9 268.2M581.9 266.2L579.9 268.2M579.9 267.2L581.9 267.2" stroke="#cc22cc" stroke-width="1.1"/>
<path d="M581.1 266.8L583.1 268.8M583.1 266.8L581.1 268.8M581.1 267.8L583.1 267.8" stroke="#cc22cc" stroke-width="1.1"/>
<path d="M582.3 266.8L584.3 268.8M584.3 266.8L582.3 268.8M582.3 267.8L584.3 267.8" stroke="#cc22cc" stroke-width="1.1"/>
<path d="M583.5 265.5L585.5 267.5M585.5 265.5L583.5 267.5M583.5 266.5L585.5 266.5" stroke="#cc22cc" stroke-width="1.1"/>
<path d="M584.7 265.1L586.7 267.1M586.7 265.1L584.7 267.1M584.7 266.1L586.7 266.1" stroke="#cc22cc" stroke-width="1.1"/>
<path d="M585.9 266.0L587.9 268.0M587.9 266.0L585.9 268.0M585.9 267.0L587.9 267.0" stroke="#cc22cc" stroke-width="1.1"/>
<path d="M587.1 265.1L589.1 267.1M589.1 265.1L587.1 267.1M587.1 266.1L589.1 266.1" stroke="#cc22cc" stroke-width="1.1"/>
<path d="M588.3 264.2L590.3 266.2M590.3 264.2L588.3 266.2M588.3 265.2L590.3 265.2" stroke="#cc22cc" stroke-width="1.1"/>
<path d="M589.5 264.7L591.5 266.7M591.5 264.7L589.5 266.7M589.5 265.7L591.5 265.7" stroke="#cc22cc" stroke-width="1.1"/>
<path d="M590.7 263.7L592.7 265.7M592.7 263.7L590.7 265.7M590.7 264.7L592.7 264.7" stroke="#cc22cc" stroke-width="1.1"/>
<path d="M591.9 263.3L593.9 265.3M593.9 263.3L591.9 265.3M591.9 264.3L593.9 264.3" stroke="#cc22cc" stroke-width="1.1"/>
<path d="M593.1 262.5L595.1 264.5M595.1 262.5L593.1 264.5M593.1 263.5L595.1 263.5" stroke="#cc22cc" stroke-width="1.1"/>
<path d="M594.3 263.6L596.3 265.6M596.3 263.6L594.3 265.6M594.3 264.6L596.3 264.6" stroke="#cc22cc" stroke-width="1.1"/>
<path d="M595.5 263.5L597.5 265.5M597.5 263.5L595.5 265.5M595.5 264.5L597.5 264.5" stroke="#cc22cc" stroke-width="1.1"/>
<path d="M596.7 262.7L598.7 264.7M598.7 262.7L596.7 264.7M596.7 263.7L598.7 263.7" stroke="#cc22cc" stroke-width="1.1"/>
<path d="M597.9 263.0L599.9 265.0M599.9 263.0L597.9 265.0M597.9 264.0L599.9 264.0" stroke="#cc22cc" stroke-width="1.1"/>
<path d="M599.1 261.0L601.1 263.0M601.1 261.0L599.1 263.0M599.1 262.0L601.1 262.0" stroke="#cc22cc" stroke-width="1.1"/>
<path d="M600.3 261.1L602.3 263.1M602.3 261.1L600.3 263.1M600.3 262.1L602.3 262.1" stroke="#cc22cc" stroke-width="1.1"/>
<path d="M601.5 261.2L603.5 263.2M603.5 261.2L601.5 263.2M601.5 262.2L603.5 262.2" stroke="#cc22cc" stroke-width="1.1"/>
<path d="M602.7 261.7L604.7 263.7M604.7 261.7L602.7 263.7M602.7 262.7L604.7 262.7" stroke="#cc22cc" stroke-width="1.1"/>
<path d="M603.9 261.3L605.9 263.3M605.9 261.3L603.9 263.3M603.9 262.3L605.9 262.3" stroke="#cc22cc" stroke-width="1.1"/>
<path d="M605.1 259.8L607.1 261.8M607.1 259.8L605.1 261.8M605.1 260.8L607.1 260.8" stroke="#cc22cc" stroke-width="1.1"/>
<path d="M606.3 259.2L608.3 261.2M608.3 259.2L606.3 261.2M606.3 260.2L608.3 260.2" stroke="#cc22cc" stroke-width="1.1"/>
<path d="M607.5 259.1L609.5 261.1M609.5 259.1L607.5 261.1M607.5 260.1L609.5 260.1" stroke="#cc22cc" stroke-width="1.1"/>
<path d="M608.7 258.8L610.7 260.8M610.7 258.8L608.7 260.8M608.7 259.8L610.7 259.8" stroke="#cc22cc" stroke-width="1.1"/>
<path d="M609.9 259.2L611.9 261.2M611.9 259.2L609.9 261.2M609.9 260.2L611.9 260.2" stroke="#cc22cc" stroke-width="1.1"/>
<path d="M611.1 257.5L613.1 259.5M613.1 257.5L611.1 259.5M611.1 258.5L613.1 258.5" stroke="#cc22cc" stroke-width="1.1"/>
<path d="M612.3 258.2L614.3 260.2M614.3 258.2L612.3 260.2M612.3 259.2L614.3 259.2" stroke="#cc22cc" stroke-width="1.1"/>
<path d="M613.5 257.7L615.5 259.7M615.5 257.7L613.5 259.7M613.5 258.7L615.5 258.7" stroke="#cc22cc" stroke-width="1.1"/>
<path d="M614.7 257.4L616.7 259.4M616.7 257.4L614.7 259.4M614.7 258.4L616.7 258.4" stroke="#cc22cc" stroke-width="1.1"/>
<path d="M615.9 256.9L617.9 258.9M617.9 256.9L615.9 258.9M615.9 257.9L617.9 257.9" stroke="#cc22cc" stroke-width="1.1"/>
<path d="M617.1 256.2L619.1 258.2M619.1 256.2L617.1 258.2M617.1 257.2L619.1 257.2" stroke="#cc22cc" stroke-width="1.1"/>
<path d="M618.3 255.3L620.3 257.3M620.3 255.3L618.3 257.3M618.3 256.3L620.3 256.3" stroke="#cc22cc" stroke-width="1.1"/>
<path d="M619.5 254.9L621.5 256.9M621.5 254.9L619.5 256.9M619.5 255.9L621.5 255.9" stroke="#cc22cc" stroke-width="1.1"/>
<path d="M620.7 254.6L622.7 256.6M622.7 254.6L620.7 256.6M620.7 255.6L622.7 255.6" stroke="#cc22cc" stroke-width="1.1"/>
<path d="M621.9 255.0L623.9 257.0M623.9 255.0L621.9 257.0M621.9 256.0L623.9 256.0" stroke="#cc22cc" stroke-width="1.1"/>
<path d="M623.1 253.3L625.1 255.3M625.1 253.3L623.1 255.3M623.1 254.3L625.1 254.3" stroke="#cc22cc" stroke-width="1.1"/>
<path d="M624.3 253.1L626.3 255.1M626.3 253.1L624.3 255.1M624.3 254.1L626.3 254.1" stroke="#cc22cc" stroke-width="1.1"/>
<path d="M625.5 253.7L627.5 255.7M627.5 253.7L625.5 255.7M625.5 254.7L627.5 254.7" stroke="#cc22cc" stroke-width="1.1"/>
<path d="M440.5 292.6L441.8 290.0L439.2 290.0Z" fill="#66cc66"/>
<path d="M441.7 291.9L443.0 289.3L440.4 289.3Z" fill="#66cc66"/>
<path d="M442.9 291.5L444.2 288.9L441.6 288.9Z" fill="#66cc66"/>
<path d="M444.1 292.1L445.4 289.5L442.8 289.5Z" fill="#66cc66"/>
<path d="M445.3 291.3L446.6 288.7L444.0 288.7Z" fill="#66cc66"/>
<path d="M446.5 292.3L447.8 289.7L445.2 289.7Z" fill="#66cc66"/>
<path d="M447.7 291.7L449.0 289.1L446.4 289.1Z" fill="#66cc66"/>
<path d="M448.9 291.5L450.2 288.9L447.6 288.9Z" fill="#66cc66"/>
<path d="M450.1 289.7L451.4 287.1L448.8 287.1Z" fill="#66cc66"/>
<path d="M451.3 289.0L452.6 286.4L450.0 286.4Z" fill="#66cc66"/>
<path d="M452.5 288.7L453.8 286.1L451.2 286.1Z" fill="#66cc66"/>
<path d="M453.7 289.1L455.0 286.5L452.4 286.5Z" fill="#66cc66"/>
<path d="M454.9 289.1L456.2 286.5L453.6 286.5Z" fill="#66cc66"/>
<path d="M456.1 288.3L457.4 285.7L454.8 285.7Z" fill="#66cc66"/>
<path d="M457.3 287.5L458.6 284.9L456.0 284.9Z" fill="#66cc66"/>
<path d="M458.5 287.5L459.8 284.9L457.2 284.9Z" fill="#66cc66"/>
<path d="M459.7 287.5L461.0 284.9L458.4 284.9Z" fill="#66cc66"/>
<path d="M460.9 287.2L462.2 284.6L459.6 284.6Z" fill="#66cc66"/>
<path d="M462.1 287.0L463.4 284.4L460.8 284.4Z" fill="#66cc66"/>
<path d="M463.3 286.8L464.6 284.2L462.0 284.2Z" fill="#66cc66"/>
<path d="M464.5 286.1L465.8 283.5L463.2 283.5Z" fill="#66cc66"/>
<path d="M465.7 284.7L467.0 282.1L464.4 282.1Z" fill="#66cc66"/>
<path d="M466.9 285.7L468.2 283.1L465.6 283.1Z" fill="#66cc66"/>
<path d="M468.1 284.3L469.4 281.7L466.8 281.7Z" fill="#66cc66"/>
<path d="M469.3 284.5L470.6 281.9L468.0 281.9Z" fill="#66cc66"/>
<path d="M470.5 283.7L471.8 281.1L469.2 281.1Z" fill="#66cc66"/>
<path d="M471.7 284.1L473.0 281.5L470.4 281.5Z" fill="#66cc66"/>
<path d="M472.9 282.6L474.2 280.0L471.6 280.0Z" fill="#66cc66"/>
<path d="M474.1 282.3L475.4 279.7L472.8 279.7Z" fill="#66cc66"/>
<path d="M475.3 282.0L476.6 279.4L474.0 279.4Z" fill="#66cc66"/>
<path d="M476.5 281.4L477.8 278.8L475.2 278.8Z" fill="#66cc66"/>
<path d="M477.7 282.5L479.0 279.9L476.4 279.9Z" fill="#66cc66"/>
<path d="M478.9 281.5L480.2 278.9L477.6 278.9Z" fill="#66cc66"/>
<path d="M480.1 280.7L481.4 278.1L478.8 278.1Z" fill="#66cc66"/>
<path d="M481.3 280.4L482.6 277.8L480.0 277.8Z" fill="#66cc66"/>
<path d="M482.5 281.3L483.8 278.7L481.2 278.7Z" fill="#66cc66"/>
<path d="M483.7 279.9L485.0 277.3L482.4 277.3Z" fill="#66cc66"/>
<path d="M484.9 279.0L486.2 276.4L483.6 276.4Z" fill="#66cc66"/>
<path d="M486.1 279.8L487.4 277.2L484.8 277.2Z" fill="#66cc66"/>
<path d="M487.3 279.1L488.6 276.5L486.0 276.5Z" fill="#66cc66"/>
<path d="M488.5 279.4L489.8 276.8L487.2 276.8Z" fill="#66cc66"/>
<path d="M489.7 277.3L491.0 274.7L488.4 274.7Z" fill="#66cc66"/>
<path d="M490.9 277.6L492.2 275.0L489.6 275.0Z" fill="#66cc66"/>
<path d="M492.1 277.8L493.4 275.2L490.8 275.2Z" fill="#66cc66"/>
<path d="M493.3 277.4L494.6 274.8L492.0 274.8Z" fill="#66cc66"/>
<path d="M494.5 277.1L495.8 274.5L493.2 274.5Z" fill="#66cc66"/>
<path d="M495.7 274.9L497.0 272.3L494.4 272.3Z" fill="#66cc66"/>
<path d="M496.9 274.9L498.2 272.3L495.6 272.3Z" fill="#66cc66"/>
<path d="M498.1 274.1L499.4 271.5L496.8 271.5Z" fill="#66cc66"/>
<path d="M499.3 273.7L500.6 271.1L498.0 271.1Z" fill="#66cc66"/>
<path d="M500.5 274.8L501.8 272.2L499.2 272.2Z" fill="#66cc66"/>
<path d="M501.7 273.6L503.0 271.0L500.4 271.0Z" fill="#66cc66"/>
<path d="M502.9 273.8L504.2 271.2L501.6 271.2Z" fill="#66cc66"/>
<path d="M504.1 272.2L505.4 269.6L502.8 269.6Z" fill="#66cc66"/>
<path d="M505.3 272.7L506.6 270.1L504.0 270.1Z" fill="#66cc66"/>
<path d="M506.5 271.4L507.8 268.8L505.2 268.8Z" fill="#66cc66"/>
<path d="M507.7 270.5L509.0 267.9L506.4 267.9Z" fill="#66cc66"/>
<path d="M508.9 271.1L510.2 268.5L507.6 268.5Z" fill="#66cc66"/>
<path d="M510.1 271.0L511.4 268.4L508.8 268.4Z" fill="#66cc66"/>
<path d="M511.3 268.8L512.6 266.2L510.0 266.2Z" fill="#66cc66"/>
<path d="M512.5 269.3L513.8 266.7L511.2 266.7Z" fill="#66cc66"/>
<path d="M513.7 268.9L515.0 266.3L512.4 266.3Z" fill="#66cc66"/>
<path d="M514.9 267.6L516.2 265.0L513.6 265.0Z" fill="#66cc66"/>
<path d="M516.1 267.4L517.4 264.8L514.8 264.8Z" fill="#66cc66"/>
<path d="M517.3 266.5L518.6 263.9L516.0 263.9Z" fill="#66cc66"/>
<path d="M518.5 266.2L519.8 263.6L517.2 263.6Z" fill="#66cc66"/>
<path d="M519.7 265.8L521.0 263.2L518.4 263.2Z" fill="#66cc66"/>
<path d="M520.9 266.0L522.2 263.4L519.6 263.4Z" fill="#66cc66"/>
<path d="M522.1 265.6L523.4 263.0L520.8 263.0Z" fill="#66cc66"/>
<path d="M523.3 264.3L524.6 261.7L522.0 261.7Z" fill="#66cc66"/>
<path d="M524.5 263.4L525.8 260.8L523.2 260.8Z" fill="#66cc66"/>
<path d="M525.7 263.5L527.0 260.9L524.4 260.9Z" fill="#66cc66"/>
<path d="M526.9 263.8L528.2 261.2L525.6 261.2Z" fill="#66cc66"/>
<path d="M528.1 262.3L529.4 259.7L526.8 259.7Z" fill="#66cc66"/>
<path d="M529.3 262.1L530.6 259.5L528.0 259.5Z" fill="#66cc66"/>
<path d="M530.5 261.6L531.8 259.0L529.2 259.0Z" fill="#66cc66"/>
<path d="M531.7 262.5L533.0 259.9L530.4 259.9Z" fill="#66cc66"/>
<path d="M532.9 261.7L534.2 259.1L531.6 259.1Z" fill="#66cc66"/>
<path d="M534.1 260.4L535.4 257.8L532.8 257.8Z" fill="#66cc66"/>
<path d="M535.3 260.2L536.6 257.6L534.0 257.6Z" fill="#66cc66"/>
<path d="M536.5 260.5L537.8 257.9L535.2 257.9Z" fill="#66cc66"/>
<path d="M537.7 260.5L539.0 257.9L536.4 257.9Z" fill="#66cc66"/>
<path d="M538.9 260.4L540.2 257.8L537.6 257.8Z" fill="#66cc66"/>
<path d="M540.1 259.0L541.4 256.4L538.8 256.4Z" fill="#66cc66"/>
<path d="M541.3 258.8L542.6 256.2L540.0 256.2Z" fill="#66cc66"/>
<path d="M542.5 259.6L543.8 257.0L541.2 257.0Z" fill="#66cc66"/>
<path d="M543.7 258.7L545.0 256.1L542.4 256.1Z" fill="#66cc66"/>
<path d="M544.9 258.2L546.2 255.6L543.6 255.6Z" fill="#66cc66"/>
<path d="M546.1 257.9L547.4 255.3L544.8 255.3Z" fill="#66cc66"/>
<path d="M547.3 258.9L548.6 256.3L546.0 256.3Z" fill="#66cc66"/>
<path d="M548.5 257.3L549.8 254.7L547.2 254.7Z" fill="#66cc66"/>
<path d="M549.7 257.6L551.0 255.0L548.4 255.0Z" fill="#66cc66"/>
<path d="M550.9 256.8L552.2 254.2L549.6 254.2Z" fill="#66cc66"/>
<path d="M552.1 256.7L553.4 254.1L550.8 254.1Z" fill="#66cc66"/>
<path d="M553.3 257.3L554.6 254.7L552.0 254.7Z" fill="#66cc66"/>
<path d="M554.5 257.2L555.8 254.6L553.2 254.6Z" fill="#66cc66"/>
<path d="M555.7 255.7L557.0 253.1L554.4 253.1Z" fill="#66cc66"/>
<path d="M556.9 255.0L558.2 252.4L555.6 252.4Z" fill="#66cc66"/>
<path d="M558.1 255.8L559.4 253.2L556.8 253.2Z" fill="#66cc66"/>
<path d="M559.3 254.5L560.6 251.9L558.0 251.9Z" fill="#66cc66"/>
<path d="M560.5 253.8L561.8 251.2L559.2 251.2Z" fill="#66cc66"/>
<path d="M561.7 255.3L563.0 252.7L560.4 252.7Z" fill="#66cc66"/>
<path d="M562.9 254.0L564.2 251.4L561.6 251.4Z" fill="#66cc66"/>
<path d="M564.1 254.5L565.4 251.9L562.8 251.9Z" fill="#66cc66"/>
<path d="M565.3 253.4L566.6 250.8L564.0 250.8Z" fill="#66cc66"/>
<path d="M566.5 254.0L567.8 251.4L565.2 251.4Z" fill="#66cc66"/>
<path d="M567.7 252.9L569.0 250.3L566.4 250.3Z" fill="#66cc66"/>
<path d="M568.9 252.0L570.2 249.4L567.6 249.4Z" fill="#66cc66"/>
<path d="M570.1 251.3L571.4 248.7L568.8 248.7Z" fill="#66cc66"/>
<path d="M571.3 252.1L572.6 249.5L570.0 249.5Z" fill="#66cc66"/>
<path d="M572.5 251.9L573.8 249.3L571.2 249.3Z" fill="#66cc66"/>
<path d="M573.7 252.1L575.0 249.5L572.4 249.5Z" fill="#66cc66"/>
<path d="M574.9 250.1L576.2 247.5L573.6 247.5Z" fill="#66cc66"/>
<path d="M576.1 250.8L577.4 248.2L574.8 248.2Z" fill="#66cc66"/>
<path d="M577.3 250.0L578.6 247.4L576.0 247.4Z" fill="#66cc66"/>
<path d="M578.5 249.9L579.8 247.3L577.2 247.3Z" fill="#66cc66"/>
<path d="M579.7 248.8L581.0 246.2L578.4 246.2Z" fill="#66cc66"/>
<path d="M580.9 248.7L582.2 246.1L579.6 246.1Z" fill="#66cc66"/>
<path d="M582.1 248.9L583.4 246.3L580.8 246.3Z" fill="#66cc66"/>
<path d="M583.3 249.3L584.6 246.7L582.0 246.7Z" fill="#66cc66"/>
<path d="M584.5 247.3L585.8 244.7L583.2 244.7Z" fill="#66cc66"/>
<path d="M585.7 247.8L587.0 245.2L584.4 245.2Z" fill="#66cc66"/>
<path d="M586.9 248.0L588.2 245.4L585.6 245.4Z" fill="#66cc66"/>
<path d="M588.1 248.0L589.4 245.4L586.8 245.4Z" fill="#66cc66"/>
<path d="M589.3 246.1L590.6 243.5L588.0 243.5Z" fill="#66cc66"/>
<path d="M590.5 245.6L591.8 243.0L589.2 243.0Z" fill="#66cc66"/>
<path d="M591.7 246.9L593.0 244.3L590.4 244.3Z" fill="#66cc66"/>
<path d="M592.9 246.6L594.2 244.0L591.6 244.0Z" fill="#66cc66"/>
<path d="M594.1 245.3L595.4 242.7L592.8 242.7Z" fill="#66cc66"/>
<path d="M595.3 244.1L596.6 241.5L594.0 241.5Z" fill="#66cc66"/>
<path d="M596.5 245.5L597.8 242.9L595.2 242.9Z" fill="#66cc66"/>
<path d="M597.7 244.1L599.0 241.5L596.4 241.5Z" fill="#66cc66"/>
<path d="M598.9 244.8L600.2 242.2L597.6 242.2Z" fill="#66cc66"/>
<path d="M600.1 243.8L601.4 241.2L598.8 241.2Z" fill="#66cc66"/>
<path d="M601.3 243.9L602.6 241.3L600.0 241.3Z" fill="#66cc66"/>
<path d="M602.5 242.2L603.8 239.6L601.2 239.6Z" fill="#66cc66"/>
<path d="M603.7 243.0L605.0 240.4L602.4 240.4Z" fill="#66cc66"/>
<path d="M604.9 241.5L606.2 238.9L603.6 238.9Z" fill="#66cc66"/>
<path d="M606.1 241.5L607.4 238.9L604.8 238.9Z" fill="#66cc66"/>
<path d="M607.3 241.9L608.6 239.3L606.0 239.3Z" fill="#66cc66"/>
<path d="M608.5 241.5L609.8 238.9L607.2 238.9Z" fill="#66cc66"/>
<path d="M609.7 239.8L611.0 237.2L608.4 237.2Z" fill="#66cc66"/>
<path d="M610.9 239.5L612.2 236.9L609.6 236.9Z" fill="#66cc66"/>
<path d="M612.1 239.4L613.4 236.8L610.8 236.8Z" fill="#66cc66"/>
<path d="M613.3 239.3L614.6 236.7L612.0 236.7Z" fill="#66cc66"/>
<path d="M614.5 238.6L615.8 236.0L613.2 236.0Z" fill="#66cc66"/>
<path d="M615.7 237.7L617.0 235.1L614.4 235.1Z" fill="#66cc66"/>
<path d="M616.9 237.5L618.2 234.9L615.6 234.9Z" fill="#66cc66"/>
<path d="M618.1 238.1L619.4 235.5L616.8 235.5Z" fill="#66cc66"/>
<path d="M619.3 238.0L620.6 235.4L618.0 235.4Z" fill="#66cc66"/>
<path d="M620.5 235.9L621.8 233.3L619.2 233.3Z" fill="#66cc66"/>
<path d="M621.7 236.5L623.0 233.9L620.4 233.9Z" fill="#66cc66"/>
<path d="M622.9 236.5L624.2 233.9L621.6 233.9Z" fill="#66cc66"/>
<path d="M624.1 234.7L625.4 232.1L622.8 232.1Z" fill="#66cc66"/>
<path d="M625.3 235.9L626.6 233.3L624.0 233.3Z" fill="#66cc66"/>
<path d="M626.5 234.0L627.8 231.4L625.2 231.4Z" fill="#66cc66"/>
<rect x="399.6" y="254.1" width="3.8" height="3.8" fill="#000"/>
<rect x="402.1" y="245.7" width="3.8" height="3.8" fill="#000"/>
<rect x="404.7" y="229.5" width="3.8" height="3.8" fill="#000"/>
<rect x="407.1" y="212.7" width="3.8" height="3.8" fill="#000"/>
<rect x="409.1" y="203.1" width="3.8" height="3.8" fill="#000"/>
<rect x="412.1" y="198.9" width="3.8" height="3.8" fill="#000"/>
<rect x="415.1" y="195.1" width="3.8" height="3.8" fill="#000"/>
<rect x="418.1" y="192.1" width="3.8" height="3.8" fill="#000"/>
<rect x="422.1" y="190.5" width="3.8" height="3.8" fill="#000"/>
<rect x="426.1" y="189.3" width="3.8" height="3.8" fill="#000"/>
<rect x="430.1" y="187.9" width="3.8" height="3.8" fill="#000"/>
<rect x="432.1" y="194.6" width="3.8" height="3.8" fill="#000"/>
<rect x="435.1" y="186.1" width="3.8" height="3.8" fill="#000"/>
<rect x="438.1" y="185.4" width="3.8" height="3.8" fill="#000"/>
<rect x="442.1" y="188.6" width="3.8" height="3.8" fill="#000"/>
<rect x="445.1" y="190.1" width="3.8" height="3.8" fill="#000"/>
<rect x="448.1" y="186.1" width="3.8" height="3.8" fill="#000"/>
<rect x="451.1" y="192.1" width="3.8" height="3.8" fill="#000"/>
<rect x="455.1" y="190.1" width="3.8" height="3.8" fill="#000"/>
<rect x="458.1" y="189.8" width="3.8" height="3.8" fill="#000"/>
<circle cx="405.6" cy="260.4" r="1.9" fill="#dd0000"/>
<circle cx="408.5" cy="252.0" r="1.9" fill="#dd0000"/>
<circle cx="409.5" cy="244.0" r="1.9" fill="#dd0000"/>
<circle cx="410.5" cy="236.0" r="1.9" fill="#dd0000"/>
<circle cx="412.0" cy="229.0" r="1.9" fill="#dd0000"/>
<circle cx="414.0" cy="223.0" r="1.9" fill="#dd0000"/>
<circle cx="415.0" cy="222.1" r="1.9" fill="#dd0000"/>
<circle cx="417.6" cy="219.9" r="1.9" fill="#dd0000"/>
<circle cx="420.2" cy="218.0" r="1.9" fill="#dd0000"/>
<circle cx="422.8" cy="214.8" r="1.9" fill="#dd0000"/>
<circle cx="425.4" cy="213.0" r="1.9" fill="#dd0000"/>
<circle cx="428.0" cy="212.2" r="1.9" fill="#dd0000"/>
<circle cx="430.6" cy="210.5" r="1.9" fill="#dd0000"/>
<circle cx="433.2" cy="209.9" r="1.9" fill="#dd0000"/>
<circle cx="435.8" cy="207.9" r="1.9" fill="#dd0000"/>
<circle cx="438.4" cy="206.6" r="1.9" fill="#dd0000"/>
<circle cx="441.0" cy="204.0" r="1.9" fill="#dd0000"/>
<circle cx="443.6" cy="204.7" r="1.9" fill="#dd0000"/>
<circle cx="446.2" cy="203.4" r="1.9" fill="#dd0000"/>
<circle cx="448.8" cy="201.9" r="1.9" fill="#dd0000"/>
<circle cx="451.4" cy="203.0" r="1.9" fill="#dd0000"/>
<circle cx="454.0" cy="202.4" r="1.9" fill="#dd0000"/>
<circle cx="456.6" cy="200.8" r="1.9" fill="#dd0000"/>
<circle cx="459.2" cy="199.2" r="1.9" fill="#dd0000"/>
<circle cx="461.8" cy="199.6" r="1.9" fill="#dd0000"/>
<circle cx="464.4" cy="197.9" r="1.9" fill="#dd0000"/>
<circle cx="467.0" cy="197.4" r="1.9" fill="#dd0000"/>
<circle cx="469.6" cy="197.9" r="1.9" fill="#dd0000"/>
<circle cx="472.2" cy="196.3" r="1.9" fill="#dd0000"/>
<circle cx="474.8" cy="196.9" r="1.9" fill="#dd0000"/>
<circle cx="477.4" cy="196.6" r="1.9" fill="#dd0000"/>
<circle cx="480.0" cy="194.5" r="1.9" fill="#dd0000"/>
<circle cx="482.6" cy="196.6" r="1.9" fill="#dd0000"/>
<circle cx="485.2" cy="195.1" r="1.9" fill="#dd0000"/>
<circle cx="487.8" cy="197.3" r="1.9" fill="#dd0000"/>
<circle cx="490.4" cy="197.7" r="1.9" fill="#dd0000"/>
<circle cx="493.0" cy="197.0" r="1.9" fill="#dd0000"/>
<circle cx="495.6" cy="195.7" r="1.9" fill="#dd0000"/>
<circle cx="498.2" cy="197.4" r="1.9" fill="#dd0000"/>
<circle cx="500.8" cy="197.0" r="1.9" fill="#dd0000"/>
<circle cx="503.4" cy="198.5" r="1.9" fill="#dd0000"/>
<circle cx="506.0" cy="195.6" r="1.9" fill="#dd0000"/>
<circle cx="508.6" cy="197.6" r="1.9" fill="#dd0000"/>
<circle cx="511.2" cy="197.7" r="1.9" fill="#dd0000"/>
<circle cx="513.8" cy="196.5" r="1.9" fill="#dd0000"/>
<circle cx="516.4" cy="196.5" r="1.9" fill="#dd0000"/>
<circle cx="519.0" cy="194.1" r="1.9" fill="#dd0000"/>
<circle cx="521.6" cy="196.4" r="1.9" fill="#dd0000"/>
<circle cx="524.2" cy="194.7" r="1.9" fill="#dd0000"/>
<circle cx="526.8" cy="196.0" r="1.9" fill="#dd0000"/>
<circle cx="529.4" cy="195.7" r="1.9" fill="#dd0000"/>
<circle cx="532.0" cy="193.2" r="1.9" fill="#dd0000"/>
<circle cx="534.6" cy="195.0" r="1.9" fill="#dd0000"/>
<circle cx="537.2" cy="195.3" r="1.9" fill="#dd0000"/>
<circle cx="539.8" cy="192.4" r="1.9" fill="#dd0000"/>
<circle cx="542.4" cy="193.0" r="1.9" fill="#dd0000"/>
<circle cx="545.0" cy="194.1" r="1.9" fill="#dd0000"/>
<circle cx="547.6" cy="191.9" r="1.9" fill="#dd0000"/>
<path d="M428.7 258.8L430.7 262.8L426.7 262.8Z" fill="#000099"/>
<path d="M431.9 251.9L433.9 255.9L429.9 255.9Z" fill="#000099"/>
<path d="M435.1 245.9L437.1 249.9L433.1 249.9Z" fill="#000099"/>
<path d="M438.3 241.0L440.3 245.0L436.3 245.0Z" fill="#000099"/>
<path d="M441.5 240.4L443.5 244.4L439.5 244.4Z" fill="#000099"/>
<path d="M444.7 240.3L446.7 244.3L442.7 244.3Z" fill="#000099"/>
<path d="M447.9 235.8L449.9 239.8L445.9 239.8Z" fill="#000099"/>
<path d="M451.1 232.8L453.1 236.8L449.1 236.8Z" fill="#000099"/>
<path d="M454.3 232.8L456.3 236.8L452.3 236.8Z" fill="#000099"/>
<path d="M457.5 232.1L459.5 236.1L455.5 236.1Z" fill="#000099"/>
<path d="M460.7 230.8L462.7 234.8L458.7 234.8Z" fill="#000099"/>
<path d="M463.9 229.7L465.9 233.7L461.9 233.7Z" fill="#000099"/>
<path d="M467.1 228.0L469.1 232.0L465.1 232.0Z" fill="#000099"/>
<path d="M470.3 229.2L472.3 233.2L468.3 233.2Z" fill="#000099"/>
<path d="M473.5 226.8L475.5 230.8L471.5 230.8Z" fill="#000099"/>
<path d="M476.7 226.1L478.7 230.1L474.7 230.1Z" fill="#000099"/>
<path d="M479.9 222.1L481.9 226.1L477.9 226.1Z" fill="#000099"/>
<path d="M483.1 223.1L485.1 227.1L481.1 227.1Z" fill="#000099"/>
<path d="M486.3 219.5L488.3 223.5L484.3 223.5Z" fill="#000099"/>
<path d="M489.5 219.9L491.5 223.9L487.5 223.9Z" fill="#000099"/>
<path d="M492.7 219.9L494.7 223.9L490.7 223.9Z" fill="#000099"/>
<path d="M495.9 218.6L497.9 222.6L493.9 222.6Z" fill="#000099"/>
<path d="M499.1 220.2L501.1 224.2L497.1 224.2Z" fill="#000099"/>
<path d="M502.3 218.6L504.3 222.6L500.3 222.6Z" fill="#000099"/>
<path d="M505.5 218.1L507.5 222.1L503.5 222.1Z" fill="#000099"/>
<path d="M508.7 218.7L510.7 222.7L506.7 222.7Z" fill="#000099"/>
<path d="M511.9 215.3L513.9 219.3L509.9 219.3Z" fill="#000099"/>
<path d="M515.1 217.9L517.1 221.9L513.1 221.9Z" fill="#000099"/>
<path d="M518.3 216.1L520.3 220.1L516.3 220.1Z" fill="#000099"/>
<path d="M521.5 214.6L523.5 218.6L519.5 218.6Z" fill="#000099"/>
<path d="M524.7 215.5L526.7 219.5L522.7 219.5Z" fill="#000099"/>
<path d="M527.9 213.0L529.9 217.0L525.9 217.0Z" fill="#000099"/>
<path d="M531.1 215.0L533.1 219.0L529.1 219.0Z" fill="#000099"/>
<path d="M534.3 212.9L536.3 216.9L532.3 216.9Z" fill="#000099"/>
<path d="M537.5 211.5L539.5 215.5L535.5 215.5Z" fill="#000099"/>
<path d="M540.7 212.4L542.7 216.4L538.7 216.4Z" fill="#000099"/>
<path d="M543.9 210.6L545.9 214.6L541.9 214.6Z" fill="#000099"/>
<path d="M547.1 209.1L549.1 213.1L545.1 213.1Z" fill="#000099"/>
<path d="M550.3 210.5L552.3 214.5L548.3 214.5Z" fill="#000099"/>
<path d="M553.5 207.4L555.5 211.4L551.5 211.4Z" fill="#000099"/>
<path d="M556.7 209.6L558.7 213.6L554.7 213.6Z" fill="#000099"/>
<path d="M559.9 206.9L561.9 210.9L557.9 210.9Z" fill="#000099"/>
<path d="M563.1 207.9L565.1 211.9L561.1 211.9Z" fill="#000099"/>
<path d="M566.3 208.8L568.3 212.8L564.3 212.8Z" fill="#000099"/>
<path d="M569.5 206.9L571.5 210.9L567.5 210.9Z" fill="#000099"/>
<path d="M572.7 206.8L574.7 210.8L570.7 210.8Z" fill="#000099"/>
<path d="M575.9 205.1L577.9 209.1L573.9 209.1Z" fill="#000099"/>
<path d="M579.1 203.6L581.1 207.6L577.1 207.6Z" fill="#000099"/>
<path d="M582.3 203.2L584.3 207.2L580.3 207.2Z" fill="#000099"/>
<path d="M585.5 203.0L587.5 207.0L583.5 207.0Z" fill="#000099"/>
<path d="M588.7 204.1L590.7 208.1L586.7 208.1Z" fill="#000099"/>
<path d="M591.9 202.8L593.9 206.8L589.9 206.8Z" fill="#000099"/>
<path d="M595.1 202.5L597.1 206.5L593.1 206.5Z" fill="#000099"/>
<path d="M598.3 203.3L600.3 207.3L596.3 207.3Z" fill="#000099"/>
<path d="M601.5 200.2L603.5 204.2L599.5 204.2Z" fill="#000099"/>
<path d="M604.7 200.6L606.7 204.6L602.7 204.6Z" fill="#000099"/>
<path d="M607.9 202.1L609.9 206.1L605.9 206.1Z" fill="#000099"/>
<path d="M611.1 199.8L613.1 203.8L609.1 203.8Z" fill="#000099"/>
<path d="M614.3 199.8L616.3 203.8L612.3 203.8Z" fill="#000099"/>
</g>
<line x1="404" y1="240" x2="404" y2="256" stroke="#000" stroke-width="1"/>
<line x1="411" y1="238" x2="411" y2="255" stroke="#dd0000" stroke-width="1"/>
<line x1="434" y1="242" x2="434" y2="261.6" stroke="#000099" stroke-width="1"/>
<line x1="530.3" y1="254" x2="530.3" y2="270.8" stroke="#66cc66" stroke-width="1"/>
<rect x="548.3" y="130" width="93" height="69.3" fill="#efefef"/>
<line x1="548.3" y1="130" x2="548.3" y2="199.3" stroke="#666" stroke-width="1"/>
<line x1="548.3" y1="199.3" x2="641.3" y2="199.3" stroke="#666" stroke-width="1"/>
<rect x="557.5" y="134.8" width="3" height="3" fill="#000"/>
<text x="571" y="139.8" font-size="9" fill="#000" textLength="69.5" lengthAdjust="spacingAndGlyphs"><tspan font-family="Liberation Serif, serif" font-size="10">Φ</tspan><tspan font-size="6" dy="2">eq</tspan><tspan dy="-2" font-weight="bold"> = 1.3×10</tspan><tspan font-size="6" dy="-4">14</tspan><tspan dy="4" font-weight="bold">cm</tspan><tspan font-size="6" dy="-4">-2</tspan></text>
<circle cx="559.0" cy="150.5" r="1.8" fill="#dd0000"/>
<text x="571" y="154.0" font-size="9" fill="#000" textLength="69.5" lengthAdjust="spacingAndGlyphs"><tspan font-family="Liberation Serif, serif" font-size="10">Φ</tspan><tspan font-size="6" dy="2">eq</tspan><tspan dy="-2" font-weight="bold"> = 3.7×10</tspan><tspan font-size="6" dy="-4">14</tspan><tspan dy="4" font-weight="bold">cm</tspan><tspan font-size="6" dy="-4">-2</tspan></text>
<path d="M559.0 162.6L560.7 166.0L557.3 166.0Z" fill="#000099"/>
<text x="571" y="168.0" font-size="9" fill="#000" textLength="69.5" lengthAdjust="spacingAndGlyphs"><tspan font-family="Liberation Serif, serif" font-size="10">Φ</tspan><tspan font-size="6" dy="2">eq</tspan><tspan dy="-2" font-weight="bold"> = 8.9×10</tspan><tspan font-size="6" dy="-4">14</tspan><tspan dy="4" font-weight="bold">cm</tspan><tspan font-size="6" dy="-4">-2</tspan></text>
<path d="M559.0 179.9L560.7 176.5L557.3 176.5Z" fill="#66cc66"/>
<text x="571" y="181.5" font-size="9" fill="#000" textLength="69.5" lengthAdjust="spacingAndGlyphs"><tspan font-family="Liberation Serif, serif" font-size="10">Φ</tspan><tspan font-size="6" dy="2">eq</tspan><tspan dy="-2" font-weight="bold"> = 2.7×10</tspan><tspan font-size="6" dy="-4">15</tspan><tspan dy="4" font-weight="bold">cm</tspan><tspan font-size="6" dy="-4">-2</tspan></text>
<path d="M557.7 190.7L560.3 193.3M560.3 190.7L557.7 193.3M557.7 192.0L560.3 192.0" stroke="#cc22cc" stroke-width="1.1"/>
<text x="571" y="195.5" font-size="9" fill="#000" textLength="69.5" lengthAdjust="spacingAndGlyphs"><tspan font-family="Liberation Serif, serif" font-size="10">Φ</tspan><tspan font-size="6" dy="2">eq</tspan><tspan dy="-2" font-weight="bold"> = 5.8×10</tspan><tspan font-size="6" dy="-4">15</tspan><tspan dy="4" font-weight="bold">cm</tspan><tspan font-size="6" dy="-4">-2</tspan></text>
<circle cx="36" cy="400" r="1.9" fill="#000"/>
<circle cx="36" cy="421" r="1.9" fill="#000"/>
<text x="59.3" y="405.8" font-size="14.3" letter-spacing="0.3" fill="#000" textLength="354" lengthAdjust="spacingAndGlyphs">Almost saturation for low fluences at high voltages</text>
<text x="59.3" y="426.7" font-size="14.3" letter-spacing="0.3" fill="#000" textLength="597" lengthAdjust="spacingAndGlyphs">n-type: Stronger increase for high fluences (<tspan fill="#c04a2e">avalanche</tspan> effects) p-type: approximately</text>
<text x="59.3" y="442.2" font-size="14.3" letter-spacing="0.3" fill="#000" textLength="257.5" lengthAdjust="spacingAndGlyphs">linear increase for <tspan font-weight="bold" font-family="Liberation Serif, serif" font-size="15">Φ</tspan><tspan font-size="9" dy="3">eq</tspan><tspan dy="-3">≥2.7x10</tspan><tspan font-size="9" dy="-6">15</tspan><tspan dy="6"> cm</tspan><tspan font-size="9" dy="-6">-2</tspan></text>
<text x="43.7" y="508.7" font-size="13.5" fill="#000" textLength="68.3" lengthAdjust="spacingAndGlyphs">01/10/2009</text>
<text x="257.3" y="509" font-size="13.5" fill="#000" textLength="205.4" lengthAdjust="spacingAndGlyphs">Otilia Militaru, on behalf of RD50,</text>
<text x="287.7" y="526" font-size="13.5" fill="#000" textLength="145" lengthAdjust="spacingAndGlyphs">RD09 Conference, Italy</text>
<text x="661.7" y="508.7" font-size="13.5" fill="#000" textLength="14.6" lengthAdjust="spacingAndGlyphs">17</text>
</svg>
</body></html>
